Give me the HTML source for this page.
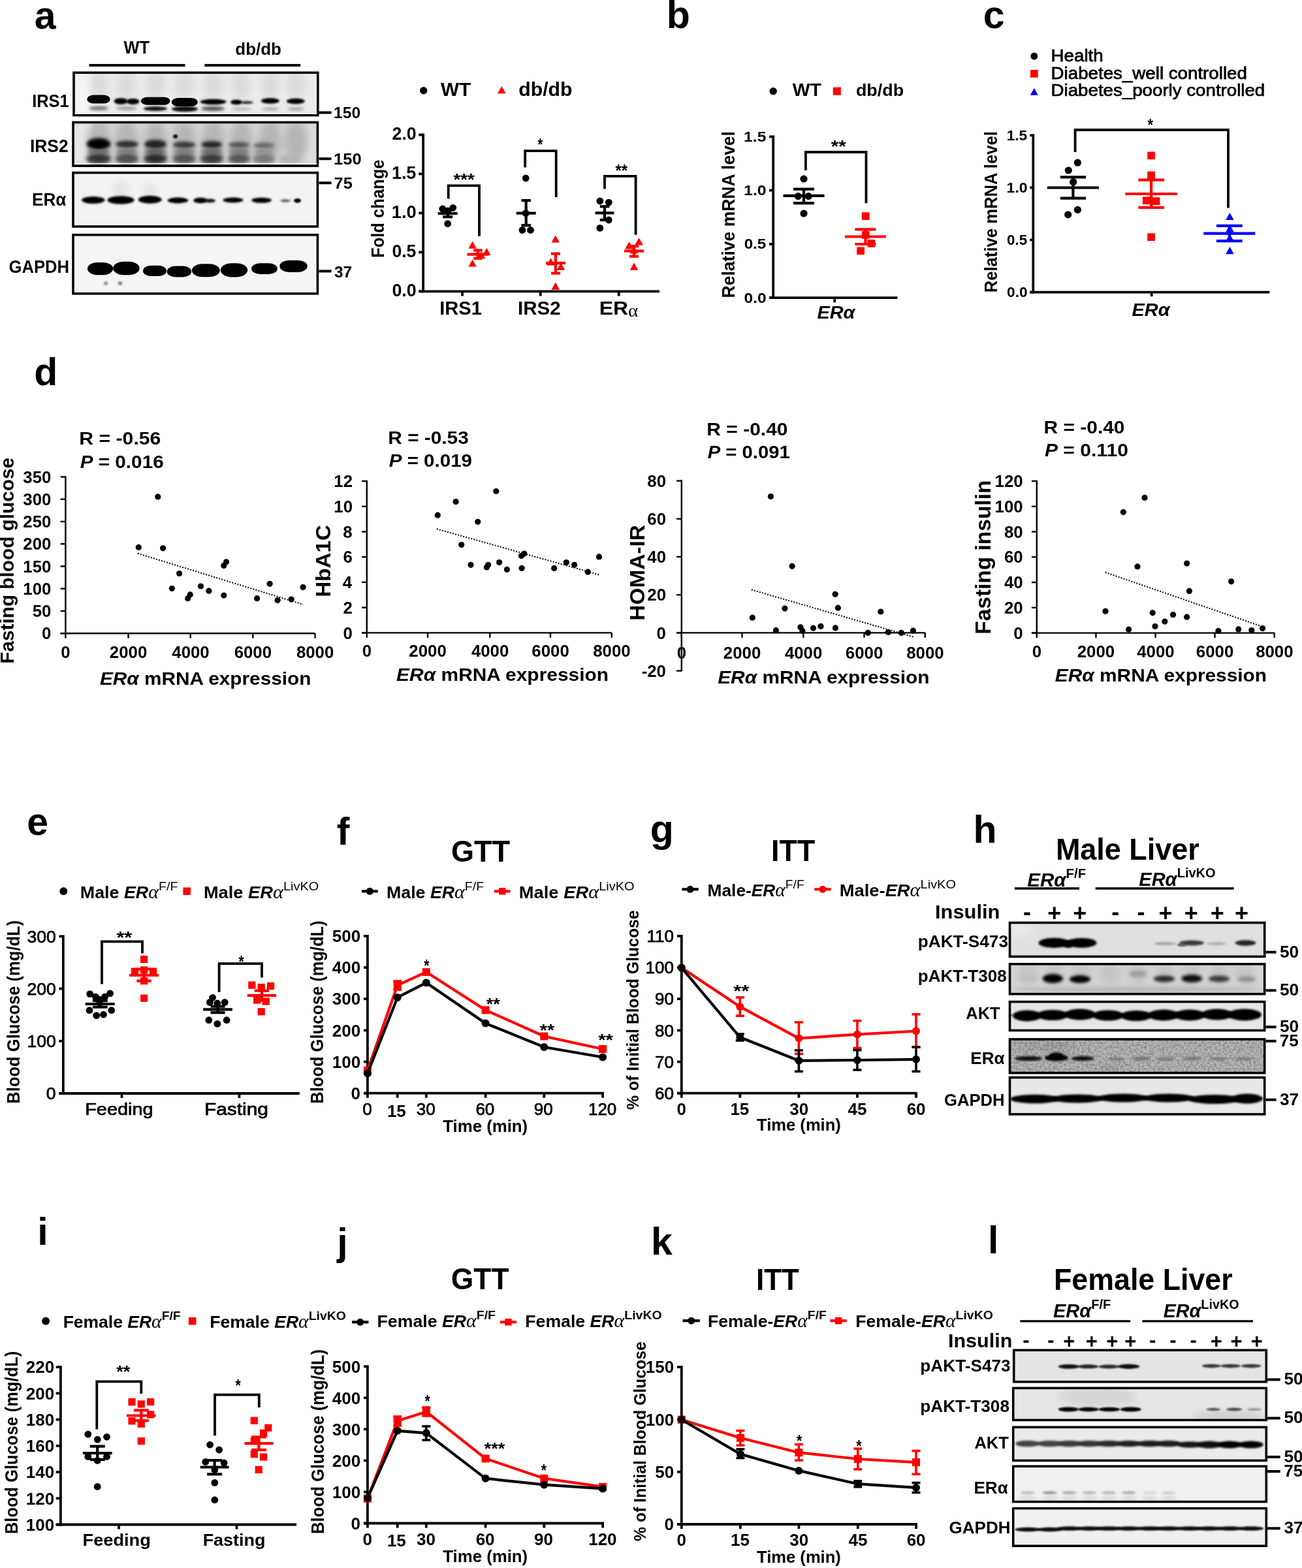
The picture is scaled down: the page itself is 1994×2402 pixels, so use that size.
<!DOCTYPE html>
<html><head><meta charset="utf-8"><title>Figure</title>
<style>html,body{margin:0;padding:0;background:#fff;width:1994px;height:2402px;overflow:hidden}svg{display:block}</style></head>
<body>
<svg width="1994" height="2402" viewBox="0 0 1994 2402" font-family="'Liberation Sans', Arial, Helvetica, sans-serif" xml:space="preserve" style="white-space:pre">
<defs>
<filter id="f0_8" x="-50%" y="-80%" width="200%" height="260%"><feGaussianBlur stdDeviation="0.8"/></filter>
<filter id="f1_2" x="-50%" y="-80%" width="200%" height="260%"><feGaussianBlur stdDeviation="1.2"/></filter>
<filter id="f1_6" x="-50%" y="-80%" width="200%" height="260%"><feGaussianBlur stdDeviation="1.6"/></filter>
<filter id="f2" x="-50%" y="-80%" width="200%" height="260%"><feGaussianBlur stdDeviation="2"/></filter>
<filter id="f2_5" x="-50%" y="-80%" width="200%" height="260%"><feGaussianBlur stdDeviation="2.5"/></filter>
<filter id="f3" x="-50%" y="-80%" width="200%" height="260%"><feGaussianBlur stdDeviation="3"/></filter>
<filter id="f4" x="-50%" y="-80%" width="200%" height="260%"><feGaussianBlur stdDeviation="4"/></filter>
<filter id="f5" x="-50%" y="-80%" width="200%" height="260%"><feGaussianBlur stdDeviation="5"/></filter>
<filter id="f6" x="-50%" y="-80%" width="200%" height="260%"><feGaussianBlur stdDeviation="6"/></filter>
<filter id="f9" x="-50%" y="-80%" width="200%" height="260%"><feGaussianBlur stdDeviation="9"/></filter>
<clipPath id="c1"><rect x="113.0" y="111.3" width="373.8" height="65.3"/></clipPath>
<clipPath id="c2"><rect x="112.0" y="187.4" width="374.4" height="66.7"/></clipPath>
<clipPath id="c3"><rect x="112.0" y="264.6" width="374.4" height="82.4"/></clipPath>
<clipPath id="c4"><rect x="112.0" y="359.8" width="374.4" height="90.0"/></clipPath>
<filter id="noise1" x="0" y="0" width="100%" height="100%" color-interpolation-filters="sRGB"><feTurbulence type="fractalNoise" baseFrequency="0.3" numOctaves="2" seed="3"/><feColorMatrix type="matrix" values="0 0 0 0 0.45  0 0 0 0 0.45  0 0 0 0 0.45  0 0 0 1.6 -0.55"/></filter>
<clipPath id="c5"><rect x="1546.5" y="1413.5" width="390.2" height="51.9"/></clipPath>
<clipPath id="c6"><rect x="1546.5" y="1476.8" width="390.2" height="45.9"/></clipPath>
<clipPath id="c7"><rect x="1546.5" y="1534.6" width="390.2" height="43.9"/></clipPath>
<clipPath id="c8"><rect x="1546.5" y="1592.0" width="390.2" height="51.6"/></clipPath>
<clipPath id="c9"><rect x="1546.5" y="1650.6" width="390.2" height="56.3"/></clipPath>
<clipPath id="c10"><rect x="1552.7" y="2068.3" width="386.6" height="48.5"/></clipPath>
<clipPath id="c11"><rect x="1551.7" y="2126.4" width="387.6" height="49.0"/></clipPath>
<clipPath id="c12"><rect x="1551.7" y="2186.3" width="387.6" height="51.1"/></clipPath>
<clipPath id="c13"><rect x="1551.7" y="2246.2" width="387.6" height="54.3"/></clipPath>
<clipPath id="c14"><rect x="1551.7" y="2310.6" width="387.6" height="57.6"/></clipPath>
</defs>
<rect width="1994" height="2402" fill="#fff"/>
<text transform="translate(52.83 43.60)" font-size="59" font-weight="bold">a</text>
<text transform="translate(1020.66 43.00)" font-size="59" font-weight="bold">b</text>
<text transform="translate(1505.64 42.80)" font-size="59" font-weight="bold">c</text>
<text transform="translate(52.14 590.20)" font-size="59" font-weight="bold">d</text>
<text transform="translate(41.24 1278.70)" font-size="59" font-weight="bold">e</text>
<text transform="translate(515.82 1293.70)" font-size="59" font-weight="bold">f</text>
<text transform="translate(995.84 1289.50)" font-size="59" font-weight="bold">g</text>
<text transform="translate(1490.57 1291.10)" font-size="59" font-weight="bold">h</text>
<text transform="translate(57.17 1907.00)" font-size="59" font-weight="bold">i</text>
<text transform="translate(516.18 1922.50)" font-size="59" font-weight="bold">j</text>
<text transform="translate(997.07 1921.80)" font-size="59" font-weight="bold">k</text>
<text transform="translate(1512.97 1920.20)" font-size="59" font-weight="bold">l</text>
<line x1="648.1" y1="204.6" x2="648.1" y2="448.2" stroke="#000" stroke-width="3.8" />
<line x1="641.2" y1="446.3" x2="648.1" y2="446.3" stroke="#000" stroke-width="3.8" />
<text transform="translate(600.43 453.90) scale(0.9597 1)" font-size="28" font-weight="bold">0.0</text>
<line x1="641.2" y1="386.4" x2="648.1" y2="386.4" stroke="#000" stroke-width="3.8" />
<text transform="translate(600.44 393.95) scale(0.9488 1)" font-size="28" font-weight="bold">0.5</text>
<line x1="641.2" y1="326.4" x2="648.1" y2="326.4" stroke="#000" stroke-width="3.8" />
<text transform="translate(599.86 334.00) scale(0.9745 1)" font-size="28" font-weight="bold">1.0</text>
<line x1="641.2" y1="266.4" x2="648.1" y2="266.4" stroke="#000" stroke-width="3.8" />
<text transform="translate(599.88 274.05) scale(0.9633 1)" font-size="28" font-weight="bold">1.5</text>
<line x1="641.2" y1="206.5" x2="648.1" y2="206.5" stroke="#000" stroke-width="3.8" />
<text transform="translate(600.56 214.10) scale(0.9560 1)" font-size="28" font-weight="bold">2.0</text>
<line x1="641.2" y1="446.3" x2="1010.0" y2="446.3" stroke="#000" stroke-width="3.8" />
<line x1="708.0" y1="446.3" x2="708.0" y2="453.5" stroke="#000" stroke-width="3.8" />
<line x1="827.7" y1="446.3" x2="827.7" y2="453.5" stroke="#000" stroke-width="3.8" />
<line x1="947.7" y1="446.3" x2="947.7" y2="453.5" stroke="#000" stroke-width="3.8" />
<text transform="translate(673.21 481.50) scale(0.9867 1)" font-size="29.5" font-weight="bold">IRS1</text>
<text transform="translate(793.08 481.50)" font-size="29.5" font-weight="bold">IRS2</text>
<text transform="translate(917.83 481.50) scale(1.0806 1)" font-size="29.5" font-weight="bold">ER</text>
<text transform="translate(962.11 485.00) scale(1.0806 1)" font-size="27" font-family="'Liberation Serif', 'Times New Roman', serif">α</text>
<text transform="translate(587.60 394.96) rotate(-90) scale(0.9467 1)" font-size="27" font-weight="bold">Fold change</text>
<circle cx="648.7" cy="138.7" r="5.7" fill="#000"/>
<text transform="translate(675.00 147.30) scale(0.9924 1)" font-size="30" font-weight="bold">WT</text>
<polygon points="768.3,131.9 762.0,143.2 774.5,143.2" fill="#f00"/>
<text transform="translate(794.29 147.30) scale(1.0076 1)" font-size="30" font-weight="bold">db/db</text>
<circle cx="677.8" cy="320.0" r="5.4" fill="#000"/>
<circle cx="693.7" cy="318.3" r="5.4" fill="#000"/>
<circle cx="685.7" cy="342.7" r="5.4" fill="#000"/>
<circle cx="685.7" cy="322.9" r="5.4" fill="#000"/>
<circle cx="805.2" cy="273.0" r="5.4" fill="#000"/>
<circle cx="805.2" cy="326.6" r="5.4" fill="#000"/>
<circle cx="800.0" cy="352.5" r="5.4" fill="#000"/>
<circle cx="812.5" cy="352.5" r="5.4" fill="#000"/>
<circle cx="918.8" cy="308.0" r="5.4" fill="#000"/>
<circle cx="932.3" cy="310.1" r="5.4" fill="#000"/>
<circle cx="932.3" cy="337.0" r="5.4" fill="#000"/>
<circle cx="918.8" cy="349.4" r="5.4" fill="#000"/>
<line x1="670.7" y1="327.0" x2="700.7" y2="327.0" stroke="#000" stroke-width="4.2" />
<line x1="685.7" y1="321.5" x2="685.7" y2="332.2" stroke="#000" stroke-width="4.2" />
<line x1="678.2" y1="321.5" x2="693.2" y2="321.5" stroke="#000" stroke-width="4.2" />
<line x1="678.2" y1="332.2" x2="693.2" y2="332.2" stroke="#000" stroke-width="4.2" />
<line x1="790.7" y1="326.6" x2="820.7" y2="326.6" stroke="#000" stroke-width="4.2" />
<line x1="805.7" y1="307.0" x2="805.7" y2="345.2" stroke="#000" stroke-width="4.2" />
<line x1="798.5" y1="307.0" x2="812.9" y2="307.0" stroke="#000" stroke-width="4.2" />
<line x1="798.5" y1="345.2" x2="812.9" y2="345.2" stroke="#000" stroke-width="4.2" />
<line x1="911.5" y1="326.2" x2="940.5" y2="326.2" stroke="#000" stroke-width="4.2" />
<line x1="926.0" y1="316.3" x2="926.0" y2="337.0" stroke="#000" stroke-width="4.2" />
<line x1="918.8" y1="316.3" x2="933.2" y2="316.3" stroke="#000" stroke-width="4.2" />
<line x1="918.8" y1="337.0" x2="933.2" y2="337.0" stroke="#000" stroke-width="4.2" />
<polygon points="723.6,369.4 717.4,380.7 729.9,380.7" fill="#f00"/>
<polygon points="745.3,379.8 739.0,391.0 751.5,391.0" fill="#f00"/>
<polygon points="737.0,384.9 730.8,396.2 743.2,396.2" fill="#f00"/>
<polygon points="723.6,397.4 717.4,408.6 729.9,408.6" fill="#f00"/>
<polygon points="850.7,360.2 844.5,371.5 857.0,371.5" fill="#f00"/>
<polygon points="843.4,395.2 837.1,406.5 849.6,406.5" fill="#f00"/>
<polygon points="859.0,402.6 852.8,413.8 865.2,413.8" fill="#f00"/>
<polygon points="850.7,432.4 844.5,443.7 857.0,443.7" fill="#f00"/>
<polygon points="963.5,370.2 957.2,381.5 969.8,381.5" fill="#f00"/>
<polygon points="978.5,364.2 972.2,375.5 984.8,375.5" fill="#f00"/>
<polygon points="971.0,377.2 964.8,388.5 977.2,388.5" fill="#f00"/>
<polygon points="971.0,402.6 964.8,413.8 977.2,413.8" fill="#f00"/>
<line x1="715.4" y1="389.6" x2="748.4" y2="389.6" stroke="#f00" stroke-width="4.2" />
<line x1="731.9" y1="383.4" x2="731.9" y2="395.8" stroke="#f00" stroke-width="4.2" />
<line x1="725.2" y1="383.4" x2="738.6" y2="383.4" stroke="#f00" stroke-width="4.2" />
<line x1="725.2" y1="395.8" x2="738.6" y2="395.8" stroke="#f00" stroke-width="4.2" />
<line x1="836.0" y1="403.0" x2="866.0" y2="403.0" stroke="#f00" stroke-width="4.2" />
<line x1="851.0" y1="388.6" x2="851.0" y2="418.6" stroke="#f00" stroke-width="4.2" />
<line x1="844.0" y1="388.6" x2="858.0" y2="388.6" stroke="#f00" stroke-width="4.2" />
<line x1="844.0" y1="418.6" x2="858.0" y2="418.6" stroke="#f00" stroke-width="4.2" />
<line x1="956.0" y1="384.5" x2="986.0" y2="384.5" stroke="#f00" stroke-width="4.2" />
<line x1="971.0" y1="377.2" x2="971.0" y2="392.7" stroke="#f00" stroke-width="4.2" />
<line x1="964.0" y1="377.2" x2="978.0" y2="377.2" stroke="#f00" stroke-width="4.2" />
<line x1="964.0" y1="392.7" x2="978.0" y2="392.7" stroke="#f00" stroke-width="4.2" />
<polyline points="686.7,304.6 686.7,284.3 734.0,284.3 734.0,361.8" fill="none" stroke="#000" stroke-width="3.8" stroke-linejoin="miter" />
<polyline points="804.2,256.4 804.2,231.2 851.7,231.2 851.7,301.9" fill="none" stroke="#000" stroke-width="3.8" stroke-linejoin="miter" />
<polyline points="926.0,289.5 926.0,269.8 973.6,269.8 973.6,359.7" fill="none" stroke="#000" stroke-width="3.8" stroke-linejoin="miter" />
<text transform="translate(694.56 284.00) scale(1.1034 1)" font-size="25" font-weight="bold">***</text>
<text transform="translate(823.40 230.00) scale(0.7895 1)" font-size="25" font-weight="bold">*</text>
<text transform="translate(942.48 269.60) scale(0.9558 1)" font-size="25" font-weight="bold">**</text>
<line x1="1184.2" y1="207.5" x2="1184.2" y2="458.0" stroke="#000" stroke-width="3.8" />
<line x1="1178.0" y1="456.1" x2="1184.2" y2="456.1" stroke="#000" stroke-width="3.8" />
<text transform="translate(1139.62 463.50) scale(1.0891 1)" font-size="22.5" font-weight="bold">0.0</text>
<line x1="1178.0" y1="373.9" x2="1184.2" y2="373.9" stroke="#000" stroke-width="3.8" />
<text transform="translate(1139.63 381.25) scale(1.0767 1)" font-size="22.5" font-weight="bold">0.5</text>
<line x1="1178.0" y1="291.6" x2="1184.2" y2="291.6" stroke="#000" stroke-width="3.8" />
<text transform="translate(1139.11 299.00) scale(1.1059 1)" font-size="22.5" font-weight="bold">1.0</text>
<line x1="1178.0" y1="209.4" x2="1184.2" y2="209.4" stroke="#000" stroke-width="3.8" />
<text transform="translate(1139.12 216.75) scale(1.0932 1)" font-size="22.5" font-weight="bold">1.5</text>
<line x1="1178.0" y1="456.1" x2="1374.4" y2="456.1" stroke="#000" stroke-width="3.8" />
<line x1="1278.3" y1="456.1" x2="1278.3" y2="463.3" stroke="#000" stroke-width="3.8" />
<text transform="translate(1251.42 487.70) scale(1.0317 1)" font-size="28" font-weight="bold" font-style="italic">ERα</text>
<text transform="translate(1124.70 456.42) rotate(-90) scale(0.9307 1)" font-size="28.5" font-weight="bold">Relative mRNA level</text>
<circle cx="1184.2" cy="139.7" r="5.7" fill="#000"/>
<text transform="translate(1213.80 146.90) scale(1.0642 1)" font-size="26.7" font-weight="bold">WT</text>
<rect x="1275.8" y="133.7" width="12" height="12" fill="#f00"/>
<text transform="translate(1310.92 146.90) scale(1.0073 1)" font-size="26.7" font-weight="bold">db/db</text>
<circle cx="1231.0" cy="274.0" r="5.6" fill="#000"/>
<circle cx="1222.4" cy="300.6" r="5.6" fill="#000"/>
<circle cx="1238.2" cy="300.6" r="5.6" fill="#000"/>
<circle cx="1231.0" cy="327.0" r="5.6" fill="#000"/>
<line x1="1199.5" y1="299.8" x2="1262.5" y2="299.8" stroke="#000" stroke-width="4.2" />
<line x1="1231.0" y1="289.7" x2="1231.0" y2="311.2" stroke="#000" stroke-width="4.2" />
<line x1="1215.0" y1="289.7" x2="1247.0" y2="289.7" stroke="#000" stroke-width="4.2" />
<line x1="1215.0" y1="311.2" x2="1247.0" y2="311.2" stroke="#000" stroke-width="4.2" />
<rect x="1319.9" y="325.3" width="11.7" height="11.7" fill="#f00"/>
<rect x="1319.9" y="354.1" width="11.7" height="11.7" fill="#f00"/>
<rect x="1328.5" y="367.1" width="11.7" height="11.7" fill="#f00"/>
<rect x="1312.2" y="378.5" width="11.7" height="11.7" fill="#f00"/>
<line x1="1294.0" y1="362.5" x2="1356.8" y2="362.5" stroke="#f00" stroke-width="4.2" />
<line x1="1325.4" y1="351.3" x2="1325.4" y2="374.0" stroke="#f00" stroke-width="4.2" />
<line x1="1309.4" y1="351.3" x2="1341.4" y2="351.3" stroke="#f00" stroke-width="4.2" />
<line x1="1309.4" y1="374.0" x2="1341.4" y2="374.0" stroke="#f00" stroke-width="4.2" />
<polyline points="1233.9,261.0 1233.9,233.0 1326.5,233.0 1326.5,311.2" fill="none" stroke="#000" stroke-width="3.8" stroke-linejoin="miter" />
<text transform="translate(1272.85 233.32) scale(1.1239 1)" font-size="26" font-weight="bold">**</text>
<line x1="1582.3" y1="205.4" x2="1582.3" y2="449.5" stroke="#000" stroke-width="3.8" />
<line x1="1577.3" y1="447.6" x2="1582.3" y2="447.6" stroke="#000" stroke-width="3.8" />
<text transform="translate(1542.09 454.90) scale(1.0305 1)" font-size="22" font-weight="bold">0.0</text>
<line x1="1577.3" y1="367.5" x2="1582.3" y2="367.5" stroke="#000" stroke-width="3.8" />
<text transform="translate(1542.10 374.80) scale(1.0189 1)" font-size="22" font-weight="bold">0.5</text>
<line x1="1577.3" y1="287.4" x2="1582.3" y2="287.4" stroke="#000" stroke-width="3.8" />
<text transform="translate(1541.62 294.70) scale(1.0465 1)" font-size="22" font-weight="bold">1.0</text>
<line x1="1577.3" y1="207.3" x2="1582.3" y2="207.3" stroke="#000" stroke-width="3.8" />
<text transform="translate(1541.63 214.60) scale(1.0345 1)" font-size="22" font-weight="bold">1.5</text>
<line x1="1577.3" y1="447.6" x2="1944.5" y2="447.6" stroke="#000" stroke-width="3.8" />
<line x1="1763.7" y1="447.6" x2="1763.7" y2="454.1" stroke="#000" stroke-width="3.8" />
<text transform="translate(1733.62 483.60) scale(1.0300 1)" font-size="28" font-weight="bold" font-style="italic">ERα</text>
<text transform="translate(1527.30 448.37) rotate(-90) scale(0.9306 1)" font-size="27.6" font-weight="bold">Relative mRNA level</text>
<circle cx="1583.8" cy="86.1" r="5.5" fill="#000"/>
<text transform="translate(1609.58 93.80) scale(1.0663 1)" font-size="26" stroke="#000" stroke-width="0.75">Health</text>
<rect x="1577.9" y="107.0" width="11.8" height="11.8" fill="#f00"/>
<text transform="translate(1609.58 120.90) scale(1.0659 1)" font-size="26" stroke="#000" stroke-width="0.75">Diabetes_well controlled</text>
<polygon points="1583.8,135.0 1577.8,145.8 1589.8,145.8" fill="#00f"/>
<text transform="translate(1609.59 147.40) scale(1.0649 1)" font-size="26" stroke="#000" stroke-width="0.75">Diabetes_poorly controlled</text>
<circle cx="1650.4" cy="249.2" r="5.6" fill="#000"/>
<circle cx="1636.3" cy="261.0" r="5.6" fill="#000"/>
<circle cx="1643.7" cy="278.7" r="5.6" fill="#000"/>
<circle cx="1650.4" cy="321.4" r="5.6" fill="#000"/>
<circle cx="1635.7" cy="328.8" r="5.6" fill="#000"/>
<line x1="1603.9" y1="287.5" x2="1682.9" y2="287.5" stroke="#000" stroke-width="4.2" />
<line x1="1643.4" y1="271.3" x2="1643.4" y2="303.7" stroke="#000" stroke-width="4.2" />
<line x1="1623.8" y1="271.3" x2="1663.0" y2="271.3" stroke="#000" stroke-width="4.2" />
<line x1="1623.8" y1="303.7" x2="1663.0" y2="303.7" stroke="#000" stroke-width="4.2" />
<rect x="1757.2" y="232.5" width="11.7" height="11.7" fill="#f00"/>
<rect x="1757.2" y="262.5" width="11.7" height="11.7" fill="#f00"/>
<rect x="1749.9" y="301.4" width="11.7" height="11.7" fill="#f00"/>
<rect x="1764.7" y="302.3" width="11.7" height="11.7" fill="#f00"/>
<rect x="1757.2" y="357.4" width="11.7" height="11.7" fill="#f00"/>
<line x1="1723.3" y1="297.0" x2="1802.9" y2="297.0" stroke="#f00" stroke-width="4.2" />
<line x1="1763.1" y1="275.7" x2="1763.1" y2="317.9" stroke="#f00" stroke-width="4.2" />
<line x1="1743.3" y1="275.7" x2="1782.9" y2="275.7" stroke="#f00" stroke-width="4.2" />
<line x1="1743.3" y1="317.9" x2="1782.9" y2="317.9" stroke="#f00" stroke-width="4.2" />
<polygon points="1883.4,325.9 1877.2,337.1 1889.7,337.1" fill="#00f"/>
<polygon points="1883.4,344.1 1877.2,355.4 1889.7,355.4" fill="#00f"/>
<polygon points="1883.4,358.4 1877.2,369.6 1889.7,369.6" fill="#00f"/>
<polygon points="1883.4,378.1 1877.2,389.3 1889.7,389.3" fill="#00f"/>
<line x1="1843.3" y1="357.7" x2="1922.3" y2="357.7" stroke="#00f" stroke-width="4.2" />
<line x1="1882.8" y1="345.9" x2="1882.8" y2="369.2" stroke="#00f" stroke-width="4.2" />
<line x1="1862.9" y1="345.9" x2="1902.7" y2="345.9" stroke="#00f" stroke-width="4.2" />
<line x1="1862.9" y1="369.2" x2="1902.7" y2="369.2" stroke="#00f" stroke-width="4.2" />
<polyline points="1646.6,233.0 1646.6,199.0 1881.0,199.0 1881.0,318.5" fill="none" stroke="#000" stroke-width="3.8" stroke-linejoin="miter" />
<text transform="translate(1757.39 200.02) scale(0.8300 1)" font-size="26" font-weight="bold">*</text>
<text transform="translate(189.60 81.90) scale(0.9397 1)" font-size="27" font-weight="bold">WT</text>
<text transform="translate(360.36 84.20) scale(1.0379 1)" font-size="25" font-weight="bold">db/db</text>
<line x1="136.5" y1="100.0" x2="283.4" y2="100.0" stroke="#000" stroke-width="3.8" />
<line x1="313.3" y1="100.0" x2="460.1" y2="100.0" stroke="#000" stroke-width="3.8" />
<text transform="translate(49.15 163.90) scale(0.9424 1)" font-size="27" font-weight="bold">IRS1</text>
<text transform="translate(45.88 232.90) scale(0.9789 1)" font-size="27" font-weight="bold">IRS2</text>
<text transform="translate(49.10 314.90) scale(0.9672 1)" font-size="27" font-weight="bold">ERα</text>
<text transform="translate(13.47 418.30) scale(0.9500 1)" font-size="27" font-weight="bold">GAPDH</text>
<g clip-path="url(#c1)"><rect x="113.0" y="111.3" width="373.8" height="65.3" fill="#ececec"/><rect x="113" y="111" width="40" height="66" fill="#f6f6f6" filter="url(#f9)"/><ellipse cx="151.6" cy="130.0" rx="15.0" ry="22.0" fill="#dbdbdb" style="mix-blend-mode:darken" filter="url(#f6)"/><ellipse cx="193.5" cy="130.0" rx="15.0" ry="22.0" fill="#dbdbdb" style="mix-blend-mode:darken" filter="url(#f6)"/><ellipse cx="238.2" cy="130.0" rx="15.0" ry="22.0" fill="#dbdbdb" style="mix-blend-mode:darken" filter="url(#f6)"/><ellipse cx="282.5" cy="130.0" rx="15.0" ry="22.0" fill="#dbdbdb" style="mix-blend-mode:darken" filter="url(#f6)"/><ellipse cx="326.6" cy="130.0" rx="15.0" ry="22.0" fill="#dbdbdb" style="mix-blend-mode:darken" filter="url(#f6)"/><ellipse cx="369.6" cy="130.0" rx="15.0" ry="22.0" fill="#dbdbdb" style="mix-blend-mode:darken" filter="url(#f6)"/><ellipse cx="413.8" cy="130.0" rx="15.0" ry="22.0" fill="#dbdbdb" style="mix-blend-mode:darken" filter="url(#f6)"/><ellipse cx="452.8" cy="130.0" rx="15.0" ry="22.0" fill="#dbdbdb" style="mix-blend-mode:darken" filter="url(#f6)"/><rect x="133.3" y="145.4" width="35.4" height="13.2" rx="10.6" fill="#000000" style="mix-blend-mode:darken" filter="url(#f1_5)"/><ellipse cx="185.0" cy="155.0" rx="10.5" ry="4.8" fill="#000000" style="mix-blend-mode:darken" filter="url(#f1_6)"/><ellipse cx="203.5" cy="155.5" rx="10.0" ry="4.5" fill="#000000" style="mix-blend-mode:darken" filter="url(#f1_6)"/><rect x="215.9" y="148.8" width="44.6" height="12.0" rx="9.6" fill="#000000" style="mix-blend-mode:darken" filter="url(#f1_5)"/><rect x="262.8" y="149.9" width="40.0" height="13.2" rx="10.6" fill="#000000" style="mix-blend-mode:darken" filter="url(#f1_5)"/><ellipse cx="326.6" cy="156.0" rx="20.0" ry="4.2" fill="#000000" style="mix-blend-mode:darken" filter="url(#f1_6)"/><ellipse cx="362.0" cy="156.5" rx="9.0" ry="3.8" fill="#000000" style="mix-blend-mode:darken" filter="url(#f1_6)"/><ellipse cx="378.0" cy="157.0" rx="10.0" ry="2.2" fill="#2f2f2f" style="mix-blend-mode:darken" filter="url(#f1_6)"/><ellipse cx="413.8" cy="154.5" rx="14.0" ry="4.3" fill="#000000" style="mix-blend-mode:darken" filter="url(#f1_6)"/><ellipse cx="452.8" cy="155.0" rx="14.0" ry="4.3" fill="#000000" style="mix-blend-mode:darken" filter="url(#f1_6)"/><ellipse cx="151.0" cy="165.8" rx="15.0" ry="3.0" fill="#6a6a6a" style="mix-blend-mode:darken" filter="url(#f2)"/><ellipse cx="194.0" cy="166.0" rx="16.0" ry="2.8" fill="#999999" style="mix-blend-mode:darken" filter="url(#f2)"/><ellipse cx="238.0" cy="166.5" rx="18.0" ry="3.6" fill="#181818" style="mix-blend-mode:darken" filter="url(#f1_6)"/><ellipse cx="283.0" cy="167.0" rx="20.0" ry="4.2" fill="#0c0c0c" style="mix-blend-mode:darken" filter="url(#f1_6)"/><ellipse cx="326.0" cy="166.5" rx="18.0" ry="3.2" fill="#474747" style="mix-blend-mode:darken" filter="url(#f2)"/><ellipse cx="370.0" cy="167.0" rx="15.0" ry="2.5" fill="#b8b8b8" style="mix-blend-mode:darken" filter="url(#f2)"/><ellipse cx="414.0" cy="167.0" rx="13.0" ry="2.5" fill="#aaaaaa" style="mix-blend-mode:darken" filter="url(#f2)"/><ellipse cx="453.0" cy="167.0" rx="13.0" ry="2.5" fill="#a0a0a0" style="mix-blend-mode:darken" filter="url(#f2)"/></g>
<rect x="113.0" y="111.3" width="373.8" height="65.3" fill="none" stroke="#000" stroke-width="3.6" />
<line x1="114.5" y1="173.9" x2="485.5" y2="173.9" stroke="#fff" stroke-width="1.2" />
<g clip-path="url(#c2)"><rect x="112.0" y="187.4" width="374.4" height="66.7" fill="#d4d4d4"/><rect x="112" y="187" width="30" height="70" fill="#e6e6e6" filter="url(#f6)"/><rect x="470" y="187" width="20" height="70" fill="#dddddd" filter="url(#f4)"/><ellipse cx="151.6" cy="215.0" rx="17.0" ry="30.0" fill="#b6b6b6" style="mix-blend-mode:darken" filter="url(#f6)"/><ellipse cx="193.5" cy="215.0" rx="17.0" ry="30.0" fill="#b6b6b6" style="mix-blend-mode:darken" filter="url(#f6)"/><ellipse cx="238.2" cy="215.0" rx="17.0" ry="30.0" fill="#b6b6b6" style="mix-blend-mode:darken" filter="url(#f6)"/><ellipse cx="282.5" cy="215.0" rx="17.0" ry="30.0" fill="#b6b6b6" style="mix-blend-mode:darken" filter="url(#f6)"/><ellipse cx="326.6" cy="215.0" rx="17.0" ry="30.0" fill="#b6b6b6" style="mix-blend-mode:darken" filter="url(#f6)"/><ellipse cx="369.6" cy="215.0" rx="17.0" ry="30.0" fill="#b6b6b6" style="mix-blend-mode:darken" filter="url(#f6)"/><ellipse cx="413.8" cy="215.0" rx="17.0" ry="30.0" fill="#b6b6b6" style="mix-blend-mode:darken" filter="url(#f6)"/><ellipse cx="452.8" cy="215.0" rx="17.0" ry="30.0" fill="#b6b6b6" style="mix-blend-mode:darken" filter="url(#f6)"/><ellipse cx="151.0" cy="220.5" rx="18.5" ry="9.0" fill="#000000" style="mix-blend-mode:darken" filter="url(#f2_5)"/><ellipse cx="194.5" cy="221.0" rx="17.5" ry="5.5" fill="#2a2a2a" style="mix-blend-mode:darken" filter="url(#f2_5)"/><ellipse cx="238.0" cy="221.0" rx="17.0" ry="7.0" fill="#202020" style="mix-blend-mode:darken" filter="url(#f2_5)"/><ellipse cx="282.0" cy="222.0" rx="17.5" ry="5.0" fill="#353535" style="mix-blend-mode:darken" filter="url(#f2_5)"/><ellipse cx="268.6" cy="209.0" rx="3.4" ry="3.0" fill="#000000" style="mix-blend-mode:darken" filter="url(#f0_8)"/><ellipse cx="324.0" cy="221.5" rx="16.0" ry="5.5" fill="#202020" style="mix-blend-mode:darken" filter="url(#f2_5)"/><ellipse cx="366.0" cy="222.0" rx="16.0" ry="4.5" fill="#515151" style="mix-blend-mode:darken" filter="url(#f2_5)"/><ellipse cx="404.0" cy="223.0" rx="16.0" ry="5.0" fill="#6a6a6a" style="mix-blend-mode:darken" filter="url(#f2_5)"/><ellipse cx="444.0" cy="223.0" rx="15.0" ry="4.0" fill="#bbbbbb" style="mix-blend-mode:darken" filter="url(#f2_5)"/><ellipse cx="151.0" cy="243.0" rx="19.0" ry="9.0" fill="#353535" style="mix-blend-mode:darken" filter="url(#f3)"/><ellipse cx="194.5" cy="243.0" rx="18.0" ry="9.0" fill="#515151" style="mix-blend-mode:darken" filter="url(#f3)"/><ellipse cx="238.0" cy="243.0" rx="18.0" ry="9.0" fill="#2a2a2a" style="mix-blend-mode:darken" filter="url(#f3)"/><ellipse cx="282.0" cy="243.0" rx="18.0" ry="9.0" fill="#555555" style="mix-blend-mode:darken" filter="url(#f3)"/><ellipse cx="324.0" cy="243.0" rx="18.0" ry="9.0" fill="#3b3b3b" style="mix-blend-mode:darken" filter="url(#f3)"/><ellipse cx="366.0" cy="243.0" rx="17.0" ry="9.0" fill="#595959" style="mix-blend-mode:darken" filter="url(#f3)"/><ellipse cx="404.0" cy="243.0" rx="17.0" ry="9.0" fill="#7b7b7b" style="mix-blend-mode:darken" filter="url(#f3)"/><ellipse cx="444.0" cy="244.0" rx="17.0" ry="8.0" fill="#b4b4b4" style="mix-blend-mode:darken" filter="url(#f3)"/><ellipse cx="151.0" cy="232.0" rx="17.0" ry="6.0" fill="#6a6a6a" style="mix-blend-mode:darken" filter="url(#f3)"/><ellipse cx="194.5" cy="232.0" rx="16.0" ry="6.0" fill="#7b7b7b" style="mix-blend-mode:darken" filter="url(#f3)"/><ellipse cx="238.0" cy="232.0" rx="16.0" ry="6.0" fill="#5f5f5f" style="mix-blend-mode:darken" filter="url(#f3)"/><ellipse cx="282.0" cy="232.0" rx="16.0" ry="6.0" fill="#7b7b7b" style="mix-blend-mode:darken" filter="url(#f3)"/><ellipse cx="324.0" cy="232.0" rx="16.0" ry="6.0" fill="#666666" style="mix-blend-mode:darken" filter="url(#f3)"/><ellipse cx="366.0" cy="232.0" rx="16.0" ry="6.0" fill="#7b7b7b" style="mix-blend-mode:darken" filter="url(#f3)"/><ellipse cx="404.0" cy="232.0" rx="16.0" ry="6.0" fill="#949494" style="mix-blend-mode:darken" filter="url(#f3)"/></g>
<rect x="112.0" y="187.4" width="374.4" height="66.7" fill="none" stroke="#000" stroke-width="3.6" />
<line x1="113.5" y1="250.6" x2="485.5" y2="250.6" stroke="#fff" stroke-width="1.2" />
<g clip-path="url(#c3)"><rect x="112.0" y="264.6" width="374.4" height="82.4" fill="#f3f3f3"/><ellipse cx="185.0" cy="290.0" rx="12.0" ry="12.0" fill="#e4e4e4" style="mix-blend-mode:darken" filter="url(#f4)"/><ellipse cx="230.0" cy="292.0" rx="12.0" ry="12.0" fill="#e7e7e7" style="mix-blend-mode:darken" filter="url(#f4)"/><ellipse cx="142.8" cy="306.5" rx="17.5" ry="5.6" fill="#000000" style="mix-blend-mode:darken" filter="url(#f1_6)"/><ellipse cx="185.0" cy="306.5" rx="20.5" ry="6.2" fill="#000000" style="mix-blend-mode:darken" filter="url(#f1_6)"/><ellipse cx="229.7" cy="305.8" rx="18.0" ry="6.0" fill="#000000" style="mix-blend-mode:darken" filter="url(#f1_6)"/><ellipse cx="272.4" cy="307.0" rx="16.0" ry="4.4" fill="#000000" style="mix-blend-mode:darken" filter="url(#f1_6)"/><ellipse cx="307.0" cy="307.0" rx="11.0" ry="4.3" fill="#000000" style="mix-blend-mode:darken" filter="url(#f1_6)"/><ellipse cx="322.0" cy="307.5" rx="8.0" ry="3.0" fill="#181818" style="mix-blend-mode:darken" filter="url(#f1_6)"/><ellipse cx="357.0" cy="306.5" rx="15.5" ry="4.0" fill="#000000" style="mix-blend-mode:darken" filter="url(#f1_6)"/><ellipse cx="400.6" cy="306.8" rx="15.5" ry="4.0" fill="#000000" style="mix-blend-mode:darken" filter="url(#f1_6)"/><ellipse cx="437.0" cy="307.5" rx="8.0" ry="2.2" fill="#616161" style="mix-blend-mode:darken" filter="url(#f1_6)"/><ellipse cx="455.5" cy="307.3" rx="5.5" ry="3.4" fill="#000000" style="mix-blend-mode:darken" filter="url(#f1_2)"/></g>
<rect x="112.0" y="264.6" width="374.4" height="82.4" fill="none" stroke="#000" stroke-width="3.6" />
<g clip-path="url(#c4)"><rect x="112.0" y="359.8" width="374.4" height="90.0" fill="#f5f5f5"/><rect x="134.0" y="402.0" width="39.2" height="19.2" rx="15.4" fill="#000000" style="mix-blend-mode:darken" filter="url(#f1_5)"/><rect x="173.2" y="400.8" width="40.4" height="20.4" rx="16.3" fill="#000000" style="mix-blend-mode:darken" filter="url(#f1_5)"/><rect x="219.0" y="406.7" width="36.0" height="16.4" rx="13.1" fill="#000000" style="mix-blend-mode:darken" filter="url(#f1_5)"/><rect x="255.7" y="407.6" width="37.4" height="16.8" rx="13.4" fill="#000000" style="mix-blend-mode:darken" filter="url(#f1_5)"/><rect x="293.9" y="404.3" width="42.8" height="20.0" rx="16.0" fill="#000000" style="mix-blend-mode:darken" filter="url(#f1_5)"/><rect x="337.8" y="403.2" width="41.4" height="21.2" rx="17.0" fill="#000000" style="mix-blend-mode:darken" filter="url(#f1_5)"/><rect x="385.1" y="403.2" width="39.8" height="16.8" rx="13.4" fill="#000000" style="mix-blend-mode:darken" filter="url(#f1_5)"/><rect x="428.3" y="398.7" width="42.4" height="18.2" rx="14.6" fill="#000000" style="mix-blend-mode:darken" filter="url(#f1_5)"/><ellipse cx="162.0" cy="434.0" rx="3.0" ry="2.5" fill="#7a7a7a" style="mix-blend-mode:darken" filter="url(#f1_6)"/><ellipse cx="184.0" cy="434.0" rx="3.0" ry="2.5" fill="#626262" style="mix-blend-mode:darken" filter="url(#f1_6)"/></g>
<rect x="112.0" y="359.8" width="374.4" height="90.0" fill="none" stroke="#000" stroke-width="3.6" />
<line x1="488.5" y1="172.5" x2="507.6" y2="172.5" stroke="#000" stroke-width="4" />
<text transform="translate(511.02 180.60) scale(1.0250 1)" font-size="24" font-weight="bold">150</text>
<line x1="488.5" y1="243.2" x2="507.6" y2="243.2" stroke="#000" stroke-width="4" />
<text transform="translate(510.96 252.20) scale(1.0676 1)" font-size="24" font-weight="bold">150</text>
<line x1="488.5" y1="280.2" x2="507.6" y2="280.2" stroke="#000" stroke-width="4" />
<text transform="translate(511.48 289.20) scale(1.0606 1)" font-size="24" font-weight="bold">75</text>
<line x1="488.5" y1="415.4" x2="507.6" y2="415.4" stroke="#000" stroke-width="4" />
<text transform="translate(511.89 424.70) scale(1.0247 1)" font-size="24" font-weight="bold">37</text>
<line x1="100.4" y1="729.3" x2="100.4" y2="971.4" stroke="#000" stroke-width="2.4" />
<line x1="92.6" y1="970.2" x2="100.4" y2="970.2" stroke="#000" stroke-width="2.4" />
<text transform="translate(64.01 979.36)" font-size="25.8" font-weight="bold">0</text>
<line x1="92.6" y1="936.0" x2="100.4" y2="936.0" stroke="#000" stroke-width="2.4" />
<text transform="translate(49.69 945.11)" font-size="25.8" font-weight="bold">50</text>
<line x1="92.6" y1="901.7" x2="100.4" y2="901.7" stroke="#000" stroke-width="2.4" />
<text transform="translate(35.37 910.86)" font-size="25.8" font-weight="bold">100</text>
<line x1="92.6" y1="867.5" x2="100.4" y2="867.5" stroke="#000" stroke-width="2.4" />
<text transform="translate(35.37 876.61)" font-size="25.8" font-weight="bold">150</text>
<line x1="92.6" y1="833.2" x2="100.4" y2="833.2" stroke="#000" stroke-width="2.4" />
<text transform="translate(35.37 842.36)" font-size="25.8" font-weight="bold">200</text>
<line x1="92.6" y1="799.0" x2="100.4" y2="799.0" stroke="#000" stroke-width="2.4" />
<text transform="translate(35.37 808.11)" font-size="25.8" font-weight="bold">250</text>
<line x1="92.6" y1="764.7" x2="100.4" y2="764.7" stroke="#000" stroke-width="2.4" />
<text transform="translate(35.37 773.86)" font-size="25.8" font-weight="bold">300</text>
<line x1="92.6" y1="730.5" x2="100.4" y2="730.5" stroke="#000" stroke-width="2.4" />
<text transform="translate(35.37 739.61)" font-size="25.8" font-weight="bold">350</text>
<line x1="92.4" y1="970.2" x2="482.5" y2="970.2" stroke="#000" stroke-width="2.4" />
<line x1="100.4" y1="970.2" x2="100.4" y2="977.7" stroke="#000" stroke-width="2.4" />
<text transform="translate(93.24 1007.60)" font-size="25.8" font-weight="bold">0</text>
<line x1="196.5" y1="970.2" x2="196.5" y2="977.7" stroke="#000" stroke-width="2.4" />
<text transform="translate(167.86 1007.60)" font-size="25.8" font-weight="bold">2000</text>
<line x1="291.7" y1="970.2" x2="291.7" y2="977.7" stroke="#000" stroke-width="2.4" />
<text transform="translate(263.32 1007.60)" font-size="25.8" font-weight="bold">4000</text>
<line x1="387.3" y1="970.2" x2="387.3" y2="977.7" stroke="#000" stroke-width="2.4" />
<text transform="translate(358.66 1007.60)" font-size="25.8" font-weight="bold">6000</text>
<line x1="482.5" y1="970.2" x2="482.5" y2="977.7" stroke="#000" stroke-width="2.4" />
<text transform="translate(453.93 1007.60)" font-size="25.8" font-weight="bold">8000</text>
<text transform="translate(152.90 1049.20) scale(1.0834 1)" font-size="27.5" font-weight="bold" font-style="italic">ERα</text>
<text transform="translate(212.77 1049.20) scale(1.0834 1)" font-size="27.5" font-weight="bold">&#160;mRNA expression</text>
<text transform="translate(21.20 1016.73) rotate(-90) scale(1.0089 1)" font-size="29.5" font-weight="bold">Fasting blood glucose</text>
<text transform="translate(121.34 681.20) scale(1.0596 1)" font-size="28.5" font-weight="bold">R = -0.56</text>
<text transform="translate(122.71 716.50) scale(1.0422 1)" font-size="28.5" font-weight="bold" font-style="italic">P</text>
<text transform="translate(142.52 716.50) scale(1.0422 1)" font-size="28.5" font-weight="bold">&#160;= 0.016</text>
<line x1="210.8" y1="847.8" x2="464.1" y2="925.9" stroke="#000" stroke-width="2.0" stroke-dasharray="2 2.2"/>
<circle cx="212.3" cy="838.4" r="4.6" fill="#000"/>
<circle cx="241.8" cy="760.9" r="4.6" fill="#000"/>
<circle cx="249.6" cy="839.8" r="4.6" fill="#000"/>
<circle cx="274.5" cy="878.5" r="4.6" fill="#000"/>
<circle cx="263.3" cy="901.5" r="4.6" fill="#000"/>
<circle cx="291.2" cy="910.9" r="4.6" fill="#000"/>
<circle cx="287.7" cy="916.7" r="4.6" fill="#000"/>
<circle cx="307.5" cy="898.0" r="4.6" fill="#000"/>
<circle cx="319.9" cy="905.2" r="4.6" fill="#000"/>
<circle cx="342.8" cy="866.5" r="4.6" fill="#000"/>
<circle cx="346.5" cy="860.8" r="4.6" fill="#000"/>
<circle cx="342.8" cy="912.1" r="4.6" fill="#000"/>
<circle cx="393.6" cy="916.7" r="4.6" fill="#000"/>
<circle cx="413.1" cy="894.3" r="4.6" fill="#000"/>
<circle cx="425.1" cy="919.6" r="4.6" fill="#000"/>
<circle cx="446.1" cy="918.1" r="4.6" fill="#000"/>
<circle cx="464.1" cy="899.5" r="4.6" fill="#000"/>
<line x1="561.8" y1="735.8" x2="561.8" y2="970.6" stroke="#000" stroke-width="2.4" />
<line x1="554.0" y1="969.4" x2="561.8" y2="969.4" stroke="#000" stroke-width="2.4" />
<text transform="translate(525.61 978.56)" font-size="25.8" font-weight="bold">0</text>
<line x1="554.0" y1="930.7" x2="561.8" y2="930.7" stroke="#000" stroke-width="2.4" />
<text transform="translate(525.61 939.83)" font-size="25.8" font-weight="bold">2</text>
<line x1="554.0" y1="891.9" x2="561.8" y2="891.9" stroke="#000" stroke-width="2.4" />
<text transform="translate(524.71 901.10)" font-size="25.8" font-weight="bold">4</text>
<line x1="554.0" y1="853.2" x2="561.8" y2="853.2" stroke="#000" stroke-width="2.4" />
<text transform="translate(525.48 862.37)" font-size="25.8" font-weight="bold">6</text>
<line x1="554.0" y1="814.5" x2="561.8" y2="814.5" stroke="#000" stroke-width="2.4" />
<text transform="translate(525.36 823.64)" font-size="25.8" font-weight="bold">8</text>
<line x1="554.0" y1="775.8" x2="561.8" y2="775.8" stroke="#000" stroke-width="2.4" />
<text transform="translate(511.29 784.91)" font-size="25.8" font-weight="bold">10</text>
<line x1="554.0" y1="737.0" x2="561.8" y2="737.0" stroke="#000" stroke-width="2.4" />
<text transform="translate(511.29 746.18)" font-size="25.8" font-weight="bold">12</text>
<line x1="554.1" y1="969.4" x2="936.8" y2="969.4" stroke="#000" stroke-width="2.4" />
<line x1="561.8" y1="969.4" x2="561.8" y2="976.9" stroke="#000" stroke-width="2.4" />
<text transform="translate(554.64 1005.80)" font-size="25.8" font-weight="bold">0</text>
<line x1="655.0" y1="969.4" x2="655.0" y2="976.9" stroke="#000" stroke-width="2.4" />
<text transform="translate(626.36 1005.80)" font-size="25.8" font-weight="bold">2000</text>
<line x1="750.3" y1="969.4" x2="750.3" y2="976.9" stroke="#000" stroke-width="2.4" />
<text transform="translate(721.92 1005.80)" font-size="25.8" font-weight="bold">4000</text>
<line x1="843.0" y1="969.4" x2="843.0" y2="976.9" stroke="#000" stroke-width="2.4" />
<text transform="translate(814.36 1005.80)" font-size="25.8" font-weight="bold">6000</text>
<line x1="936.8" y1="969.4" x2="936.8" y2="976.9" stroke="#000" stroke-width="2.4" />
<text transform="translate(908.23 1005.80)" font-size="25.8" font-weight="bold">8000</text>
<text transform="translate(607.10 1043.10) scale(1.0881 1)" font-size="27.5" font-weight="bold" font-style="italic">ERα</text>
<text transform="translate(667.23 1043.10) scale(1.0881 1)" font-size="27.5" font-weight="bold">&#160;mRNA expression</text>
<text transform="translate(505.90 914.76) rotate(-90) scale(1.0378 1)" font-size="32" font-weight="bold">HbA1C</text>
<text transform="translate(594.36 680.20) scale(1.0457 1)" font-size="28.5" font-weight="bold">R = -0.53</text>
<text transform="translate(595.71 714.70) scale(1.0373 1)" font-size="28.5" font-weight="bold" font-style="italic">P</text>
<text transform="translate(615.43 714.70) scale(1.0373 1)" font-size="28.5" font-weight="bold">&#160;= 0.019</text>
<line x1="668.8" y1="810.2" x2="917.5" y2="880.5" stroke="#000" stroke-width="2.0" stroke-dasharray="2 2.2"/>
<circle cx="670.3" cy="789.2" r="4.6" fill="#000"/>
<circle cx="698.1" cy="768.6" r="4.6" fill="#000"/>
<circle cx="759.8" cy="752.5" r="4.6" fill="#000"/>
<circle cx="731.7" cy="799.3" r="4.6" fill="#000"/>
<circle cx="706.7" cy="834.6" r="4.6" fill="#000"/>
<circle cx="721.0" cy="865.3" r="4.6" fill="#000"/>
<circle cx="745.4" cy="869.0" r="4.6" fill="#000"/>
<circle cx="747.7" cy="865.3" r="4.6" fill="#000"/>
<circle cx="764.6" cy="861.5" r="4.6" fill="#000"/>
<circle cx="776.4" cy="872.4" r="4.6" fill="#000"/>
<circle cx="798.5" cy="851.5" r="4.6" fill="#000"/>
<circle cx="802.8" cy="848.1" r="4.6" fill="#000"/>
<circle cx="799.1" cy="870.4" r="4.6" fill="#000"/>
<circle cx="848.7" cy="870.4" r="4.6" fill="#000"/>
<circle cx="867.3" cy="861.5" r="4.6" fill="#000"/>
<circle cx="879.7" cy="865.3" r="4.6" fill="#000"/>
<circle cx="900.3" cy="876.2" r="4.6" fill="#000"/>
<circle cx="917.5" cy="852.9" r="4.6" fill="#000"/>
<line x1="1043.8" y1="735.0" x2="1043.8" y2="1028.5" stroke="#000" stroke-width="2.4" />
<line x1="1036.0" y1="1027.6" x2="1043.8" y2="1027.6" stroke="#000" stroke-width="2.4" />
<text transform="translate(982.65 1036.76)" font-size="25.8" font-weight="bold">-20</text>
<line x1="1036.0" y1="969.4" x2="1043.8" y2="969.4" stroke="#000" stroke-width="2.4" />
<text transform="translate(1005.61 978.56)" font-size="25.8" font-weight="bold">0</text>
<line x1="1036.0" y1="911.2" x2="1043.8" y2="911.2" stroke="#000" stroke-width="2.4" />
<text transform="translate(991.29 920.36)" font-size="25.8" font-weight="bold">20</text>
<line x1="1036.0" y1="853.0" x2="1043.8" y2="853.0" stroke="#000" stroke-width="2.4" />
<text transform="translate(991.29 862.16)" font-size="25.8" font-weight="bold">40</text>
<line x1="1036.0" y1="794.8" x2="1043.8" y2="794.8" stroke="#000" stroke-width="2.4" />
<text transform="translate(991.29 803.96)" font-size="25.8" font-weight="bold">60</text>
<line x1="1036.0" y1="736.6" x2="1043.8" y2="736.6" stroke="#000" stroke-width="2.4" />
<text transform="translate(991.29 745.76)" font-size="25.8" font-weight="bold">80</text>
<line x1="1036.1" y1="969.4" x2="1416.8" y2="969.4" stroke="#000" stroke-width="2.4" />
<line x1="1043.8" y1="969.4" x2="1043.8" y2="976.9" stroke="#000" stroke-width="2.4" />
<text transform="translate(1036.64 1008.70)" font-size="25.8" font-weight="bold">0</text>
<line x1="1136.5" y1="969.4" x2="1136.5" y2="976.9" stroke="#000" stroke-width="2.4" />
<text transform="translate(1107.86 1008.70)" font-size="25.8" font-weight="bold">2000</text>
<line x1="1230.3" y1="969.4" x2="1230.3" y2="976.9" stroke="#000" stroke-width="2.4" />
<text transform="translate(1201.92 1008.70)" font-size="25.8" font-weight="bold">4000</text>
<line x1="1323.5" y1="969.4" x2="1323.5" y2="976.9" stroke="#000" stroke-width="2.4" />
<text transform="translate(1294.86 1008.70)" font-size="25.8" font-weight="bold">6000</text>
<line x1="1416.8" y1="969.4" x2="1416.8" y2="976.9" stroke="#000" stroke-width="2.4" />
<text transform="translate(1388.23 1008.70)" font-size="25.8" font-weight="bold">8000</text>
<text transform="translate(1099.20 1047.40) scale(1.0861 1)" font-size="27.5" font-weight="bold" font-style="italic">ERα</text>
<text transform="translate(1159.22 1047.40) scale(1.0861 1)" font-size="27.5" font-weight="bold">&#160;mRNA expression</text>
<text transform="translate(987.30 950.67) rotate(-90) scale(1.0429 1)" font-size="32" font-weight="bold">HOMA-IR</text>
<text transform="translate(1082.35 666.80) scale(1.0522 1)" font-size="28.5" font-weight="bold">R = -0.40</text>
<text transform="translate(1083.71 702.30) scale(1.0266 1)" font-size="28.5" font-weight="bold" font-style="italic">P</text>
<text transform="translate(1103.23 702.30) scale(1.0266 1)" font-size="28.5" font-weight="bold">&#160;= 0.091</text>
<line x1="1150.8" y1="903.4" x2="1399.0" y2="975.7" stroke="#000" stroke-width="2.0" stroke-dasharray="2 2.2"/>
<circle cx="1152.3" cy="946.2" r="4.6" fill="#000"/>
<circle cx="1180.4" cy="760.6" r="4.6" fill="#000"/>
<circle cx="1188.4" cy="965.7" r="4.6" fill="#000"/>
<circle cx="1201.9" cy="932.1" r="4.6" fill="#000"/>
<circle cx="1213.1" cy="867.3" r="4.6" fill="#000"/>
<circle cx="1226.0" cy="960.8" r="4.6" fill="#000"/>
<circle cx="1228.9" cy="966.2" r="4.6" fill="#000"/>
<circle cx="1245.5" cy="962.2" r="4.6" fill="#000"/>
<circle cx="1257.0" cy="959.4" r="4.6" fill="#000"/>
<circle cx="1279.1" cy="910.3" r="4.6" fill="#000"/>
<circle cx="1283.4" cy="931.2" r="4.6" fill="#000"/>
<circle cx="1279.4" cy="961.9" r="4.6" fill="#000"/>
<circle cx="1329.3" cy="969.4" r="4.6" fill="#000"/>
<circle cx="1348.8" cy="937.0" r="4.6" fill="#000"/>
<circle cx="1360.3" cy="968.5" r="4.6" fill="#000"/>
<circle cx="1380.3" cy="969.4" r="4.6" fill="#000"/>
<circle cx="1398.4" cy="966.2" r="4.6" fill="#000"/>
<line x1="1587.8" y1="735.8" x2="1587.8" y2="970.8" stroke="#000" stroke-width="2.4" />
<line x1="1580.0" y1="969.6" x2="1587.8" y2="969.6" stroke="#000" stroke-width="2.4" />
<text transform="translate(1552.21 978.76)" font-size="25.8" font-weight="bold">0</text>
<line x1="1580.0" y1="930.8" x2="1587.8" y2="930.8" stroke="#000" stroke-width="2.4" />
<text transform="translate(1537.89 939.99)" font-size="25.8" font-weight="bold">20</text>
<line x1="1580.0" y1="892.1" x2="1587.8" y2="892.1" stroke="#000" stroke-width="2.4" />
<text transform="translate(1537.89 901.22)" font-size="25.8" font-weight="bold">40</text>
<line x1="1580.0" y1="853.3" x2="1587.8" y2="853.3" stroke="#000" stroke-width="2.4" />
<text transform="translate(1537.89 862.45)" font-size="25.8" font-weight="bold">60</text>
<line x1="1580.0" y1="814.5" x2="1587.8" y2="814.5" stroke="#000" stroke-width="2.4" />
<text transform="translate(1537.89 823.68)" font-size="25.8" font-weight="bold">80</text>
<line x1="1580.0" y1="775.8" x2="1587.8" y2="775.8" stroke="#000" stroke-width="2.4" />
<text transform="translate(1523.58 784.91)" font-size="25.8" font-weight="bold">100</text>
<line x1="1580.0" y1="737.0" x2="1587.8" y2="737.0" stroke="#000" stroke-width="2.4" />
<text transform="translate(1523.58 746.14)" font-size="25.8" font-weight="bold">120</text>
<line x1="1579.8" y1="969.6" x2="1951.7" y2="969.6" stroke="#000" stroke-width="2.4" />
<line x1="1587.8" y1="969.6" x2="1587.8" y2="977.1" stroke="#000" stroke-width="2.4" />
<text transform="translate(1580.64 1007.10)" font-size="25.8" font-weight="bold">0</text>
<line x1="1678.4" y1="969.6" x2="1678.4" y2="977.1" stroke="#000" stroke-width="2.4" />
<text transform="translate(1649.76 1007.10)" font-size="25.8" font-weight="bold">2000</text>
<line x1="1769.6" y1="969.6" x2="1769.6" y2="977.1" stroke="#000" stroke-width="2.4" />
<text transform="translate(1741.22 1007.10)" font-size="25.8" font-weight="bold">4000</text>
<line x1="1860.5" y1="969.6" x2="1860.5" y2="977.1" stroke="#000" stroke-width="2.4" />
<text transform="translate(1831.86 1007.10)" font-size="25.8" font-weight="bold">6000</text>
<line x1="1951.7" y1="969.6" x2="1951.7" y2="977.1" stroke="#000" stroke-width="2.4" />
<text transform="translate(1923.13 1007.10)" font-size="25.8" font-weight="bold">8000</text>
<text transform="translate(1615.80 1044.30) scale(1.0857 1)" font-size="27.5" font-weight="bold" font-style="italic">ERα</text>
<text transform="translate(1675.80 1044.30) scale(1.0857 1)" font-size="27.5" font-weight="bold">&#160;mRNA expression</text>
<text transform="translate(1517.30 971.78) rotate(-90) scale(1.0145 1)" font-size="33" font-weight="bold">Fasting insulin</text>
<text transform="translate(1598.55 663.50) scale(1.0505 1)" font-size="28.5" font-weight="bold">R = -0.40</text>
<text transform="translate(1599.90 698.50) scale(1.0563 1)" font-size="28.5" font-weight="bold" font-style="italic">P</text>
<text transform="translate(1619.98 698.50) scale(1.0563 1)" font-size="28.5" font-weight="bold">&#160;= 0.110</text>
<line x1="1692.7" y1="876.8" x2="1932.0" y2="959.5" stroke="#000" stroke-width="2.0" stroke-dasharray="2 2.2"/>
<circle cx="1693.0" cy="936.3" r="4.6" fill="#000"/>
<circle cx="1720.3" cy="784.6" r="4.6" fill="#000"/>
<circle cx="1728.6" cy="964.2" r="4.6" fill="#000"/>
<circle cx="1742.0" cy="867.9" r="4.6" fill="#000"/>
<circle cx="1753.1" cy="762.4" r="4.6" fill="#000"/>
<circle cx="1765.2" cy="938.8" r="4.6" fill="#000"/>
<circle cx="1769.0" cy="959.5" r="4.6" fill="#000"/>
<circle cx="1783.9" cy="952.1" r="4.6" fill="#000"/>
<circle cx="1796.6" cy="941.7" r="4.6" fill="#000"/>
<circle cx="1817.6" cy="863.1" r="4.6" fill="#000"/>
<circle cx="1821.4" cy="905.4" r="4.6" fill="#000"/>
<circle cx="1817.6" cy="945.2" r="4.6" fill="#000"/>
<circle cx="1865.9" cy="966.5" r="4.6" fill="#000"/>
<circle cx="1885.6" cy="890.8" r="4.6" fill="#000"/>
<circle cx="1896.7" cy="963.9" r="4.6" fill="#000"/>
<circle cx="1916.8" cy="965.5" r="4.6" fill="#000"/>
<circle cx="1933.6" cy="962.6" r="4.6" fill="#000"/>
<line x1="96.8" y1="1432.5" x2="96.8" y2="1676.9" stroke="#000" stroke-width="3.8" />
<line x1="90.4" y1="1675.0" x2="96.8" y2="1675.0" stroke="#000" stroke-width="3.8" />
<text transform="translate(70.82 1684.41)" font-size="26.5" stroke="#000" stroke-width="0.75">0</text>
<line x1="90.4" y1="1594.8" x2="96.8" y2="1594.8" stroke="#000" stroke-width="3.8" />
<text transform="translate(41.40 1604.21)" font-size="26.5" stroke="#000" stroke-width="0.75">100</text>
<line x1="90.4" y1="1514.6" x2="96.8" y2="1514.6" stroke="#000" stroke-width="3.8" />
<text transform="translate(41.40 1524.01)" font-size="26.5" stroke="#000" stroke-width="0.75">200</text>
<line x1="90.4" y1="1434.4" x2="96.8" y2="1434.4" stroke="#000" stroke-width="3.8" />
<text transform="translate(41.40 1443.81)" font-size="26.5" stroke="#000" stroke-width="0.75">300</text>
<line x1="90.4" y1="1675.0" x2="458.8" y2="1675.0" stroke="#000" stroke-width="3.8" />
<line x1="186.5" y1="1675.0" x2="186.5" y2="1682.0" stroke="#000" stroke-width="3.8" />
<line x1="366.4" y1="1675.0" x2="366.4" y2="1682.0" stroke="#000" stroke-width="3.8" />
<text transform="translate(130.19 1707.60) scale(1.0897 1)" font-size="26.5" stroke="#000" stroke-width="0.75">Feeding</text>
<text transform="translate(312.91 1707.60) scale(1.1279 1)" font-size="26.5" stroke="#000" stroke-width="0.75">Fasting</text>
<text transform="translate(30.40 1690.66) rotate(-90) scale(0.9466 1)" font-size="27" font-weight="bold">Blood Glucose (mg/dL)</text>
<circle cx="97.3" cy="1365.3" r="6" fill="#000"/>
<text transform="translate(122.86 1376.10) scale(1.0317 1)" font-size="26" font-weight="bold">Male&#160;</text>
<text transform="translate(189.94 1376.10) scale(1.0317 1)" font-size="26" font-weight="bold" font-style="italic">ER</text>
<text transform="translate(227.21 1376.10) scale(1.0317 1)" font-size="29.120000000000005" font-style="italic" font-family="'Liberation Serif', 'Times New Roman', serif">α</text>
<text transform="translate(242.98 1364.10) scale(1.0317 1)" font-size="19">F/F</text>
<rect x="280.4" y="1359.5" width="11.5" height="11.5" fill="#f00"/>
<text transform="translate(311.93 1376.10) scale(1.0479 1)" font-size="26" font-weight="bold">Male&#160;</text>
<text transform="translate(380.07 1376.10) scale(1.0479 1)" font-size="26" font-weight="bold" font-style="italic">ER</text>
<text transform="translate(417.92 1376.10) scale(1.0479 1)" font-size="29.120000000000005" font-style="italic" font-family="'Liberation Serif', 'Times New Roman', serif">α</text>
<text transform="translate(433.94 1364.10) scale(1.0479 1)" font-size="19">LivKO</text>
<circle cx="137.7" cy="1522.6" r="5.4" fill="#000"/>
<circle cx="146.3" cy="1527.0" r="5.4" fill="#000"/>
<circle cx="160.6" cy="1527.0" r="5.4" fill="#000"/>
<circle cx="168.5" cy="1521.9" r="5.4" fill="#000"/>
<circle cx="152.0" cy="1531.2" r="5.4" fill="#000"/>
<circle cx="137.0" cy="1547.7" r="5.4" fill="#000"/>
<circle cx="147.7" cy="1555.6" r="5.4" fill="#000"/>
<circle cx="158.5" cy="1554.2" r="5.4" fill="#000"/>
<circle cx="170.7" cy="1547.7" r="5.4" fill="#000"/>
<circle cx="152.5" cy="1536.0" r="5.4" fill="#000"/>
<line x1="130.8" y1="1538.0" x2="175.8" y2="1538.0" stroke="#000" stroke-width="4.2" />
<line x1="153.3" y1="1533.0" x2="153.3" y2="1542.7" stroke="#000" stroke-width="4.2" />
<line x1="141.8" y1="1533.0" x2="164.8" y2="1533.0" stroke="#000" stroke-width="4.2" />
<line x1="141.8" y1="1542.7" x2="164.8" y2="1542.7" stroke="#000" stroke-width="4.2" />
<rect x="215.0" y="1464.0" width="11.2" height="11.2" fill="#f00"/>
<rect x="215.0" y="1480.4" width="11.2" height="11.2" fill="#f00"/>
<rect x="200.9" y="1482.6" width="11.2" height="11.2" fill="#f00"/>
<rect x="228.9" y="1482.6" width="11.2" height="11.2" fill="#f00"/>
<rect x="215.0" y="1497.0" width="11.2" height="11.2" fill="#f00"/>
<rect x="215.0" y="1523.5" width="11.2" height="11.2" fill="#f00"/>
<line x1="197.9" y1="1494.0" x2="243.1" y2="1494.0" stroke="#f00" stroke-width="4.2" />
<line x1="220.5" y1="1484.6" x2="220.5" y2="1502.6" stroke="#f00" stroke-width="4.2" />
<line x1="209.4" y1="1484.6" x2="231.6" y2="1484.6" stroke="#f00" stroke-width="4.2" />
<line x1="209.4" y1="1502.6" x2="231.6" y2="1502.6" stroke="#f00" stroke-width="4.2" />
<circle cx="325.6" cy="1528.3" r="5.4" fill="#000"/>
<circle cx="321.3" cy="1535.5" r="5.4" fill="#000"/>
<circle cx="332.8" cy="1537.0" r="5.4" fill="#000"/>
<circle cx="344.2" cy="1535.5" r="5.4" fill="#000"/>
<circle cx="319.8" cy="1562.7" r="5.4" fill="#000"/>
<circle cx="332.8" cy="1568.4" r="5.4" fill="#000"/>
<circle cx="347.1" cy="1562.7" r="5.4" fill="#000"/>
<line x1="311.2" y1="1546.4" x2="355.8" y2="1546.4" stroke="#000" stroke-width="4.2" />
<line x1="333.5" y1="1541.6" x2="333.5" y2="1551.2" stroke="#000" stroke-width="4.2" />
<line x1="322.5" y1="1541.6" x2="344.5" y2="1541.6" stroke="#000" stroke-width="4.2" />
<line x1="322.5" y1="1551.2" x2="344.5" y2="1551.2" stroke="#000" stroke-width="4.2" />
<rect x="380.2" y="1503.5" width="11.2" height="11.2" fill="#f00"/>
<rect x="394.6" y="1506.9" width="11.2" height="11.2" fill="#f00"/>
<rect x="408.9" y="1504.9" width="11.2" height="11.2" fill="#f00"/>
<rect x="388.0" y="1526.4" width="11.2" height="11.2" fill="#f00"/>
<rect x="401.7" y="1528.4" width="11.2" height="11.2" fill="#f00"/>
<rect x="394.6" y="1544.2" width="11.2" height="11.2" fill="#f00"/>
<line x1="378.7" y1="1524.9" x2="423.1" y2="1524.9" stroke="#f00" stroke-width="4.2" />
<line x1="400.9" y1="1517.7" x2="400.9" y2="1532.6" stroke="#f00" stroke-width="4.2" />
<line x1="389.9" y1="1517.7" x2="411.9" y2="1517.7" stroke="#f00" stroke-width="4.2" />
<line x1="389.9" y1="1532.6" x2="411.9" y2="1532.6" stroke="#f00" stroke-width="4.2" />
<polyline points="156.0,1507.6 156.0,1442.3 218.0,1442.3 218.0,1460.2" fill="none" stroke="#000" stroke-width="3.8" stroke-linejoin="miter" />
<polyline points="335.6,1519.7 335.6,1476.1 401.0,1476.1 401.0,1497.6" fill="none" stroke="#000" stroke-width="3.8" stroke-linejoin="miter" />
<text transform="translate(178.45 1444.92) scale(1.1788 1)" font-size="26" font-weight="bold">**</text>
<text transform="translate(365.39 1482.12) scale(0.8097 1)" font-size="26" font-weight="bold">*</text>
<line x1="92.9" y1="2092.3" x2="92.9" y2="2337.4" stroke="#000" stroke-width="3.8" />
<line x1="85.7" y1="2335.5" x2="92.9" y2="2335.5" stroke="#000" stroke-width="3.8" />
<text transform="translate(39.85 2344.73)" font-size="26" font-weight="bold">100</text>
<line x1="85.7" y1="2295.3" x2="92.9" y2="2295.3" stroke="#000" stroke-width="3.8" />
<text transform="translate(39.85 2304.51)" font-size="26" font-weight="bold">120</text>
<line x1="85.7" y1="2255.1" x2="92.9" y2="2255.1" stroke="#000" stroke-width="3.8" />
<text transform="translate(39.85 2264.29)" font-size="26" font-weight="bold">140</text>
<line x1="85.7" y1="2214.8" x2="92.9" y2="2214.8" stroke="#000" stroke-width="3.8" />
<text transform="translate(39.85 2224.07)" font-size="26" font-weight="bold">160</text>
<line x1="85.7" y1="2174.6" x2="92.9" y2="2174.6" stroke="#000" stroke-width="3.8" />
<text transform="translate(39.85 2183.85)" font-size="26" font-weight="bold">180</text>
<line x1="85.7" y1="2134.4" x2="92.9" y2="2134.4" stroke="#000" stroke-width="3.8" />
<text transform="translate(39.85 2143.63)" font-size="26" font-weight="bold">200</text>
<line x1="85.7" y1="2094.2" x2="92.9" y2="2094.2" stroke="#000" stroke-width="3.8" />
<text transform="translate(39.85 2103.41)" font-size="26" font-weight="bold">220</text>
<line x1="85.7" y1="2335.5" x2="454.0" y2="2335.5" stroke="#000" stroke-width="3.8" />
<line x1="182.0" y1="2335.5" x2="182.0" y2="2342.5" stroke="#000" stroke-width="3.8" />
<line x1="362.5" y1="2335.5" x2="362.5" y2="2342.5" stroke="#000" stroke-width="3.8" />
<text transform="translate(126.53 2367.80) scale(1.0267 1)" font-size="26.5" font-weight="bold">Feeding</text>
<text transform="translate(310.65 2367.80) scale(1.0180 1)" font-size="26.5" font-weight="bold">Fasting</text>
<text transform="translate(26.80 2350.06) rotate(-90) scale(0.9439 1)" font-size="27" font-weight="bold">Blood Glucose (mg/dL)</text>
<circle cx="70.1" cy="2023.8" r="6" fill="#000"/>
<text transform="translate(96.68 2033.60) scale(1.0185 1)" font-size="26" font-weight="bold">Female&#160;</text>
<text transform="translate(195.30 2033.60) scale(1.0185 1)" font-size="26" font-weight="bold" font-style="italic">ER</text>
<text transform="translate(232.08 2033.60) scale(1.0185 1)" font-size="29.120000000000005" font-style="italic" font-family="'Liberation Serif', 'Times New Roman', serif">α</text>
<text transform="translate(247.65 2021.60) scale(1.0185 1)" font-size="19" font-weight="bold">F/F</text>
<rect x="288.9" y="2018.0" width="11.5" height="11.5" fill="#f00"/>
<text transform="translate(321.27 2033.60) scale(1.0216 1)" font-size="26" font-weight="bold">Female&#160;</text>
<text transform="translate(420.19 2033.60) scale(1.0216 1)" font-size="26" font-weight="bold" font-style="italic">ER</text>
<text transform="translate(457.09 2033.60) scale(1.0216 1)" font-size="29.120000000000005" font-style="italic" font-family="'Liberation Serif', 'Times New Roman', serif">α</text>
<text transform="translate(472.71 2021.60) scale(1.0216 1)" font-size="19" font-weight="bold">LivKO</text>
<circle cx="134.8" cy="2197.1" r="5.4" fill="#000"/>
<circle cx="149.2" cy="2205.2" r="5.4" fill="#000"/>
<circle cx="163.5" cy="2201.3" r="5.4" fill="#000"/>
<circle cx="134.8" cy="2231.4" r="5.4" fill="#000"/>
<circle cx="149.2" cy="2237.4" r="5.4" fill="#000"/>
<circle cx="163.5" cy="2231.4" r="5.4" fill="#000"/>
<circle cx="149.2" cy="2277.4" r="5.4" fill="#000"/>
<line x1="126.8" y1="2226.0" x2="171.6" y2="2226.0" stroke="#000" stroke-width="4.2" />
<line x1="149.2" y1="2215.6" x2="149.2" y2="2235.9" stroke="#000" stroke-width="4.2" />
<line x1="137.7" y1="2215.6" x2="160.7" y2="2215.6" stroke="#000" stroke-width="4.2" />
<line x1="137.7" y1="2235.9" x2="160.7" y2="2235.9" stroke="#000" stroke-width="4.2" />
<rect x="196.4" y="2142.0" width="11.2" height="11.2" fill="#f00"/>
<rect x="210.7" y="2145.3" width="11.2" height="11.2" fill="#f00"/>
<rect x="225.0" y="2142.0" width="11.2" height="11.2" fill="#f00"/>
<rect x="225.0" y="2161.4" width="11.2" height="11.2" fill="#f00"/>
<rect x="196.4" y="2171.2" width="11.2" height="11.2" fill="#f00"/>
<rect x="210.7" y="2175.7" width="11.2" height="11.2" fill="#f00"/>
<rect x="210.7" y="2202.0" width="11.2" height="11.2" fill="#f00"/>
<line x1="193.9" y1="2168.5" x2="238.7" y2="2168.5" stroke="#f00" stroke-width="4.2" />
<line x1="216.3" y1="2160.4" x2="216.3" y2="2176.2" stroke="#f00" stroke-width="4.2" />
<line x1="204.8" y1="2160.4" x2="227.8" y2="2160.4" stroke="#f00" stroke-width="4.2" />
<line x1="204.8" y1="2176.2" x2="227.8" y2="2176.2" stroke="#f00" stroke-width="4.2" />
<circle cx="321.6" cy="2213.2" r="5.4" fill="#000"/>
<circle cx="335.6" cy="2221.0" r="5.4" fill="#000"/>
<circle cx="314.7" cy="2239.5" r="5.4" fill="#000"/>
<circle cx="343.1" cy="2241.0" r="5.4" fill="#000"/>
<circle cx="328.8" cy="2251.4" r="5.4" fill="#000"/>
<circle cx="328.8" cy="2271.4" r="5.4" fill="#000"/>
<circle cx="328.8" cy="2297.7" r="5.4" fill="#000"/>
<line x1="306.7" y1="2247.5" x2="350.5" y2="2247.5" stroke="#000" stroke-width="4.2" />
<line x1="328.6" y1="2237.1" x2="328.6" y2="2258.3" stroke="#000" stroke-width="4.2" />
<line x1="317.1" y1="2237.1" x2="340.1" y2="2237.1" stroke="#000" stroke-width="4.2" />
<line x1="317.1" y1="2258.3" x2="340.1" y2="2258.3" stroke="#000" stroke-width="4.2" />
<rect x="383.7" y="2170.6" width="11.2" height="11.2" fill="#f00"/>
<rect x="405.2" y="2181.7" width="11.2" height="11.2" fill="#f00"/>
<rect x="398.0" y="2189.7" width="11.2" height="11.2" fill="#f00"/>
<rect x="383.7" y="2202.0" width="11.2" height="11.2" fill="#f00"/>
<rect x="383.7" y="2222.0" width="11.2" height="11.2" fill="#f00"/>
<rect x="398.0" y="2226.4" width="11.2" height="11.2" fill="#f00"/>
<rect x="390.6" y="2245.8" width="11.2" height="11.2" fill="#f00"/>
<line x1="374.4" y1="2211.1" x2="418.6" y2="2211.1" stroke="#f00" stroke-width="4.2" />
<line x1="396.5" y1="2201.3" x2="396.5" y2="2221.0" stroke="#f00" stroke-width="4.2" />
<line x1="385.0" y1="2201.3" x2="408.0" y2="2201.3" stroke="#f00" stroke-width="4.2" />
<line x1="385.0" y1="2221.0" x2="408.0" y2="2221.0" stroke="#f00" stroke-width="4.2" />
<polyline points="148.3,2189.4 148.3,2116.3 216.3,2116.3 216.3,2135.0" fill="none" stroke="#000" stroke-width="3.8" stroke-linejoin="miter" />
<polyline points="329.0,2199.2 329.0,2136.6 396.8,2136.6 396.8,2156.0" fill="none" stroke="#000" stroke-width="3.8" stroke-linejoin="miter" />
<text transform="translate(178.26 2110.30) scale(1.0857 1)" font-size="25" font-weight="bold">**</text>
<text transform="translate(360.49 2131.00) scale(0.8421 1)" font-size="25" font-weight="bold">*</text>
<text transform="translate(690.89 1320.00) scale(0.9810 1)" font-size="46" font-weight="bold">GTT</text>
<line x1="554.0" y1="1365.3" x2="578.7" y2="1365.3" stroke="#000" stroke-width="4.2" />
<circle cx="566.4" cy="1365.3" r="5.5" fill="#000"/>
<text transform="translate(591.96 1375.70) scale(1.0296 1)" font-size="26" font-weight="bold">Male&#160;</text>
<text transform="translate(658.91 1375.70) scale(1.0296 1)" font-size="26" font-weight="bold" font-style="italic">ER</text>
<text transform="translate(696.10 1375.70) scale(1.0296 1)" font-size="29.120000000000005" font-style="italic" font-family="'Liberation Serif', 'Times New Roman', serif">α</text>
<text transform="translate(711.84 1363.70) scale(1.0296 1)" font-size="19">F/F</text>
<line x1="756.8" y1="1365.3" x2="781.6" y2="1365.3" stroke="#f00" stroke-width="4.2" />
<rect x="764.0" y="1360.0" width="10.5" height="10.5" fill="#f00"/>
<text transform="translate(794.72 1375.70) scale(1.0521 1)" font-size="26" font-weight="bold">Male&#160;</text>
<text transform="translate(863.14 1375.70) scale(1.0521 1)" font-size="26" font-weight="bold" font-style="italic">ER</text>
<text transform="translate(901.14 1375.70) scale(1.0521 1)" font-size="29.120000000000005" font-style="italic" font-family="'Liberation Serif', 'Times New Roman', serif">α</text>
<text transform="translate(917.22 1363.70) scale(1.0521 1)" font-size="19">LivKO</text>
<line x1="562.9" y1="1432.0" x2="562.9" y2="1676.6" stroke="#000" stroke-width="3.8" />
<line x1="557.0" y1="1674.7" x2="562.9" y2="1674.7" stroke="#000" stroke-width="3.8" />
<text transform="translate(537.61 1683.93)" font-size="26" font-weight="bold">0</text>
<line x1="557.0" y1="1626.5" x2="562.9" y2="1626.5" stroke="#000" stroke-width="3.8" />
<text transform="translate(508.75 1635.77)" font-size="26" font-weight="bold">100</text>
<line x1="557.0" y1="1578.4" x2="562.9" y2="1578.4" stroke="#000" stroke-width="3.8" />
<text transform="translate(508.75 1587.61)" font-size="26" font-weight="bold">200</text>
<line x1="557.0" y1="1530.2" x2="562.9" y2="1530.2" stroke="#000" stroke-width="3.8" />
<text transform="translate(508.75 1539.45)" font-size="26" font-weight="bold">300</text>
<line x1="557.0" y1="1482.1" x2="562.9" y2="1482.1" stroke="#000" stroke-width="3.8" />
<text transform="translate(508.75 1491.29)" font-size="26" font-weight="bold">400</text>
<line x1="557.0" y1="1433.9" x2="562.9" y2="1433.9" stroke="#000" stroke-width="3.8" />
<text transform="translate(508.75 1443.13)" font-size="26" font-weight="bold">500</text>
<line x1="557.0" y1="1674.7" x2="925.0" y2="1674.7" stroke="#000" stroke-width="3.8" />
<line x1="562.9" y1="1674.7" x2="562.9" y2="1681.7" stroke="#000" stroke-width="3.8" />
<line x1="608.7" y1="1674.7" x2="608.7" y2="1681.7" stroke="#000" stroke-width="3.8" />
<line x1="652.8" y1="1674.7" x2="652.8" y2="1681.7" stroke="#000" stroke-width="3.8" />
<line x1="743.6" y1="1674.7" x2="743.6" y2="1681.7" stroke="#000" stroke-width="3.8" />
<line x1="833.3" y1="1674.7" x2="833.3" y2="1681.7" stroke="#000" stroke-width="3.8" />
<line x1="923.1" y1="1674.7" x2="923.1" y2="1681.7" stroke="#000" stroke-width="3.8" />
<text transform="translate(555.32 1708.20)" font-size="26" stroke="#000" stroke-width="0.75">0</text>
<text transform="translate(592.91 1710.70)" font-size="26" font-weight="bold">15</text>
<text transform="translate(637.80 1708.20)" font-size="26" stroke="#000" stroke-width="0.75">30</text>
<text transform="translate(728.38 1708.20)" font-size="26" stroke="#000" stroke-width="0.75">60</text>
<text transform="translate(817.84 1708.20)" font-size="26" stroke="#000" stroke-width="0.75">90</text>
<text transform="translate(900.94 1708.20)" font-size="26" stroke="#000" stroke-width="0.75">120</text>
<text transform="translate(678.34 1733.50) scale(0.9917 1)" font-size="26" font-weight="bold">Time (min)</text>
<text transform="translate(495.00 1690.66) rotate(-90) scale(0.9442 1)" font-size="27" font-weight="bold">Blood Glucose (mg/dL)</text>
<polyline points="562.9,1639.8 608.7,1509.4 652.8,1489.1 743.6,1547.3 833.3,1587.5 923.1,1607.0" fill="none" stroke="#f00" stroke-width="4.2" stroke-linejoin="miter" />
<line x1="608.7" y1="1503.0" x2="608.7" y2="1516.0" stroke="#f00" stroke-width="3.6" />
<line x1="602.2" y1="1503.0" x2="615.2" y2="1503.0" stroke="#f00" stroke-width="3.6" />
<line x1="602.2" y1="1516.0" x2="615.2" y2="1516.0" stroke="#f00" stroke-width="3.6" />
<rect x="556.9" y="1633.8" width="12" height="12" fill="#f00"/>
<rect x="602.7" y="1503.4" width="12" height="12" fill="#f00"/>
<rect x="646.8" y="1483.1" width="12" height="12" fill="#f00"/>
<rect x="737.6" y="1541.3" width="12" height="12" fill="#f00"/>
<rect x="827.3" y="1581.5" width="12" height="12" fill="#f00"/>
<rect x="917.1" y="1601.0" width="12" height="12" fill="#f00"/>
<polyline points="562.9,1644.2 608.7,1527.9 652.8,1505.5 743.6,1567.6 833.3,1604.0 923.1,1619.5" fill="none" stroke="#000" stroke-width="4.2" stroke-linejoin="miter" />
<circle cx="562.9" cy="1644.2" r="6" fill="#000"/>
<circle cx="608.7" cy="1527.9" r="6" fill="#000"/>
<circle cx="652.8" cy="1505.5" r="6" fill="#000"/>
<circle cx="743.6" cy="1567.6" r="6" fill="#000"/>
<circle cx="833.3" cy="1604.0" r="6" fill="#000"/>
<circle cx="923.1" cy="1619.5" r="6" fill="#000"/>
<text transform="translate(649.19 1488.32) scale(0.8097 1)" font-size="26" font-weight="bold">*</text>
<text transform="translate(744.86 1546.62) scale(1.0390 1)" font-size="26" font-weight="bold">**</text>
<text transform="translate(826.86 1586.92) scale(1.0989 1)" font-size="26" font-weight="bold">**</text>
<text transform="translate(916.25 1601.82) scale(1.1189 1)" font-size="26" font-weight="bold">**</text>
<text transform="translate(690.72 1974.80) scale(0.9654 1)" font-size="46" font-weight="bold">GTT</text>
<line x1="539.0" y1="2025.3" x2="564.4" y2="2025.3" stroke="#000" stroke-width="4.2" />
<circle cx="551.7" cy="2025.3" r="5.5" fill="#000"/>
<text transform="translate(577.57 2032.70) scale(1.0265 1)" font-size="26" font-weight="bold">Female&#160;</text>
<text transform="translate(676.96 2032.70) scale(1.0265 1)" font-size="26" font-weight="bold" font-style="italic">ER</text>
<text transform="translate(714.04 2032.70) scale(1.0265 1)" font-size="29.120000000000005" font-style="italic" font-family="'Liberation Serif', 'Times New Roman', serif">α</text>
<text transform="translate(729.73 2020.70) scale(1.0265 1)" font-size="19" font-weight="bold">F/F</text>
<line x1="765.8" y1="2025.3" x2="791.1" y2="2025.3" stroke="#f00" stroke-width="4.2" />
<rect x="773.2" y="2020.0" width="10.5" height="10.5" fill="#f00"/>
<text transform="translate(804.27 2032.70) scale(1.0256 1)" font-size="26" font-weight="bold">Female&#160;</text>
<text transform="translate(903.57 2032.70) scale(1.0256 1)" font-size="26" font-weight="bold" font-style="italic">ER</text>
<text transform="translate(940.61 2032.70) scale(1.0256 1)" font-size="29.120000000000005" font-style="italic" font-family="'Liberation Serif', 'Times New Roman', serif">α</text>
<text transform="translate(956.29 2020.70) scale(1.0256 1)" font-size="19" font-weight="bold">LivKO</text>
<line x1="562.9" y1="2091.4" x2="562.9" y2="2335.4" stroke="#000" stroke-width="3.8" />
<line x1="557.0" y1="2333.5" x2="562.9" y2="2333.5" stroke="#000" stroke-width="3.8" />
<text transform="translate(537.61 2342.73)" font-size="26" font-weight="bold">0</text>
<line x1="557.0" y1="2285.5" x2="562.9" y2="2285.5" stroke="#000" stroke-width="3.8" />
<text transform="translate(508.75 2294.69)" font-size="26" font-weight="bold">100</text>
<line x1="557.0" y1="2237.4" x2="562.9" y2="2237.4" stroke="#000" stroke-width="3.8" />
<text transform="translate(508.75 2246.65)" font-size="26" font-weight="bold">200</text>
<line x1="557.0" y1="2189.4" x2="562.9" y2="2189.4" stroke="#000" stroke-width="3.8" />
<text transform="translate(508.75 2198.61)" font-size="26" font-weight="bold">300</text>
<line x1="557.0" y1="2141.3" x2="562.9" y2="2141.3" stroke="#000" stroke-width="3.8" />
<text transform="translate(508.75 2150.57)" font-size="26" font-weight="bold">400</text>
<line x1="557.0" y1="2093.3" x2="562.9" y2="2093.3" stroke="#000" stroke-width="3.8" />
<text transform="translate(508.75 2102.53)" font-size="26" font-weight="bold">500</text>
<line x1="557.0" y1="2333.5" x2="925.0" y2="2333.5" stroke="#000" stroke-width="3.8" />
<line x1="562.9" y1="2333.5" x2="562.9" y2="2340.5" stroke="#000" stroke-width="3.8" />
<line x1="608.7" y1="2333.5" x2="608.7" y2="2340.5" stroke="#000" stroke-width="3.8" />
<line x1="652.8" y1="2333.5" x2="652.8" y2="2340.5" stroke="#000" stroke-width="3.8" />
<line x1="743.6" y1="2333.5" x2="743.6" y2="2340.5" stroke="#000" stroke-width="3.8" />
<line x1="833.3" y1="2333.5" x2="833.3" y2="2340.5" stroke="#000" stroke-width="3.8" />
<line x1="923.1" y1="2333.5" x2="923.1" y2="2340.5" stroke="#000" stroke-width="3.8" />
<text transform="translate(555.38 2366.90)" font-size="26" font-weight="bold">0</text>
<text transform="translate(592.91 2369.40)" font-size="26" font-weight="bold">15</text>
<text transform="translate(638.06 2366.90)" font-size="26" font-weight="bold">30</text>
<text transform="translate(728.63 2366.90)" font-size="26" font-weight="bold">60</text>
<text transform="translate(818.03 2366.90)" font-size="26" font-weight="bold">90</text>
<text transform="translate(901.20 2366.90)" font-size="26" font-weight="bold">120</text>
<text transform="translate(678.34 2393.10) scale(0.9917 1)" font-size="26" font-weight="bold">Time (min)</text>
<text transform="translate(496.00 2350.07) rotate(-90) scale(0.9541 1)" font-size="27" font-weight="bold">Blood Glucose (mg/dL)</text>
<polyline points="562.9,2295.6 608.7,2176.8 652.8,2162.5 743.6,2234.4 833.3,2264.8 923.1,2277.7" fill="none" stroke="#f00" stroke-width="4.2" stroke-linejoin="miter" />
<line x1="608.7" y1="2170.0" x2="608.7" y2="2184.0" stroke="#f00" stroke-width="3.6" />
<line x1="602.2" y1="2170.0" x2="615.2" y2="2170.0" stroke="#f00" stroke-width="3.6" />
<line x1="602.2" y1="2184.0" x2="615.2" y2="2184.0" stroke="#f00" stroke-width="3.6" />
<line x1="652.8" y1="2156.0" x2="652.8" y2="2169.0" stroke="#f00" stroke-width="3.6" />
<line x1="646.3" y1="2156.0" x2="659.3" y2="2156.0" stroke="#f00" stroke-width="3.6" />
<line x1="646.3" y1="2169.0" x2="659.3" y2="2169.0" stroke="#f00" stroke-width="3.6" />
<rect x="556.9" y="2289.6" width="12" height="12" fill="#f00"/>
<rect x="602.7" y="2170.8" width="12" height="12" fill="#f00"/>
<rect x="646.8" y="2156.5" width="12" height="12" fill="#f00"/>
<rect x="737.6" y="2228.4" width="12" height="12" fill="#f00"/>
<rect x="827.3" y="2258.8" width="12" height="12" fill="#f00"/>
<rect x="917.1" y="2271.7" width="12" height="12" fill="#f00"/>
<polyline points="562.9,2294.7 608.7,2191.8 652.8,2195.3 743.6,2264.8 833.3,2274.4 923.1,2280.4" fill="none" stroke="#000" stroke-width="4.2" stroke-linejoin="miter" />
<line x1="652.8" y1="2184.9" x2="652.8" y2="2206.0" stroke="#000" stroke-width="3.6" />
<line x1="646.3" y1="2184.9" x2="659.3" y2="2184.9" stroke="#000" stroke-width="3.6" />
<line x1="646.3" y1="2206.0" x2="659.3" y2="2206.0" stroke="#000" stroke-width="3.6" />
<circle cx="562.9" cy="2294.7" r="6" fill="#000"/>
<circle cx="608.7" cy="2191.8" r="6" fill="#000"/>
<circle cx="652.8" cy="2195.3" r="6" fill="#000"/>
<circle cx="743.6" cy="2264.8" r="6" fill="#000"/>
<circle cx="833.3" cy="2274.4" r="6" fill="#000"/>
<circle cx="923.1" cy="2280.4" r="6" fill="#000"/>
<text transform="translate(650.39 2155.32) scale(0.8097 1)" font-size="26" font-weight="bold">*</text>
<text transform="translate(741.77 2228.32) scale(1.0378 1)" font-size="26" font-weight="bold">***</text>
<text transform="translate(828.79 2261.32) scale(0.8097 1)" font-size="26" font-weight="bold">*</text>
<text transform="translate(1181.09 1319.00) scale(0.9748 1)" font-size="46" font-weight="bold">ITT</text>
<line x1="1044.4" y1="1362.3" x2="1069.8" y2="1362.3" stroke="#000" stroke-width="4.2" />
<circle cx="1057.1" cy="1362.3" r="5.5" fill="#000"/>
<text transform="translate(1083.59 1372.80) scale(1.0117 1)" font-size="26" font-weight="bold">Male-</text>
<text transform="translate(1150.83 1372.80) scale(1.0117 1)" font-size="26" font-weight="bold" font-style="italic">ER</text>
<text transform="translate(1187.37 1372.80) scale(1.0117 1)" font-size="29.120000000000005" font-style="italic" font-family="'Liberation Serif', 'Times New Roman', serif">α</text>
<text transform="translate(1202.84 1360.80) scale(1.0117 1)" font-size="19">F/F</text>
<line x1="1247.3" y1="1362.3" x2="1272.6" y2="1362.3" stroke="#f00" stroke-width="4.2" />
<circle cx="1259.9" cy="1362.3" r="5.5" fill="#f00"/>
<text transform="translate(1285.83 1372.80) scale(1.0503 1)" font-size="26" font-weight="bold">Male-</text>
<text transform="translate(1355.63 1372.80) scale(1.0503 1)" font-size="26" font-weight="bold" font-style="italic">ER</text>
<text transform="translate(1393.57 1372.80) scale(1.0503 1)" font-size="29.120000000000005" font-style="italic" font-family="'Liberation Serif', 'Times New Roman', serif">α</text>
<text transform="translate(1409.62 1360.80) scale(1.0503 1)" font-size="19">LivKO</text>
<line x1="1043.8" y1="1432.0" x2="1043.8" y2="1676.6" stroke="#000" stroke-width="3.8" />
<line x1="1037.0" y1="1674.7" x2="1043.8" y2="1674.7" stroke="#000" stroke-width="3.8" />
<text transform="translate(1003.05 1683.93)" font-size="26" stroke="#000" stroke-width="0.75">60</text>
<line x1="1037.0" y1="1626.5" x2="1043.8" y2="1626.5" stroke="#000" stroke-width="3.8" />
<text transform="translate(1003.05 1635.77)" font-size="26" stroke="#000" stroke-width="0.75">70</text>
<line x1="1037.0" y1="1578.4" x2="1043.8" y2="1578.4" stroke="#000" stroke-width="3.8" />
<text transform="translate(1003.05 1587.61)" font-size="26" stroke="#000" stroke-width="0.75">80</text>
<line x1="1037.0" y1="1530.2" x2="1043.8" y2="1530.2" stroke="#000" stroke-width="3.8" />
<text transform="translate(1003.05 1539.45)" font-size="26" stroke="#000" stroke-width="0.75">90</text>
<line x1="1037.0" y1="1482.1" x2="1043.8" y2="1482.1" stroke="#000" stroke-width="3.8" />
<text transform="translate(988.62 1491.29)" font-size="26" stroke="#000" stroke-width="0.75">100</text>
<line x1="1037.0" y1="1433.9" x2="1043.8" y2="1433.9" stroke="#000" stroke-width="3.8" />
<text transform="translate(990.44 1443.13)" font-size="26" stroke="#000" stroke-width="0.75">110</text>
<line x1="1037.0" y1="1674.7" x2="1404.9" y2="1674.7" stroke="#000" stroke-width="3.8" />
<line x1="1043.8" y1="1674.7" x2="1043.8" y2="1681.7" stroke="#000" stroke-width="3.8" />
<line x1="1133.3" y1="1674.7" x2="1133.3" y2="1681.7" stroke="#000" stroke-width="3.8" />
<line x1="1223.4" y1="1674.7" x2="1223.4" y2="1681.7" stroke="#000" stroke-width="3.8" />
<line x1="1312.9" y1="1674.7" x2="1312.9" y2="1681.7" stroke="#000" stroke-width="3.8" />
<line x1="1403.0" y1="1674.7" x2="1403.0" y2="1681.7" stroke="#000" stroke-width="3.8" />
<text transform="translate(1036.59 1707.80)" font-size="26" font-weight="bold">0</text>
<text transform="translate(1118.41 1707.80)" font-size="26" font-weight="bold">15</text>
<text transform="translate(1209.17 1707.80)" font-size="26" font-weight="bold">30</text>
<text transform="translate(1298.60 1707.80)" font-size="26" font-weight="bold">45</text>
<text transform="translate(1388.63 1707.80)" font-size="26" font-weight="bold">60</text>
<text transform="translate(1159.04 1732.20) scale(0.9839 1)" font-size="26" font-weight="bold">Time (min)</text>
<text transform="translate(978.20 1700.02) rotate(-90) scale(0.9538 1)" font-size="26" font-weight="bold">% of Initial Blood Glucose</text>
<polyline points="1043.8,1482.5 1133.3,1542.2 1223.4,1590.5 1312.9,1584.6 1403.0,1579.5" fill="none" stroke="#f00" stroke-width="4.2" stroke-linejoin="miter" />
<line x1="1133.3" y1="1527.9" x2="1133.3" y2="1556.2" stroke="#f00" stroke-width="3.6" />
<line x1="1126.8" y1="1527.9" x2="1139.8" y2="1527.9" stroke="#f00" stroke-width="3.6" />
<line x1="1126.8" y1="1556.2" x2="1139.8" y2="1556.2" stroke="#f00" stroke-width="3.6" />
<line x1="1223.4" y1="1566.0" x2="1223.4" y2="1614.4" stroke="#f00" stroke-width="3.6" />
<line x1="1216.9" y1="1566.0" x2="1229.9" y2="1566.0" stroke="#f00" stroke-width="3.6" />
<line x1="1216.9" y1="1614.4" x2="1229.9" y2="1614.4" stroke="#f00" stroke-width="3.6" />
<line x1="1312.9" y1="1563.7" x2="1312.9" y2="1605.5" stroke="#f00" stroke-width="3.6" />
<line x1="1306.4" y1="1563.7" x2="1319.4" y2="1563.7" stroke="#f00" stroke-width="3.6" />
<line x1="1306.4" y1="1605.5" x2="1319.4" y2="1605.5" stroke="#f00" stroke-width="3.6" />
<line x1="1403.0" y1="1553.8" x2="1403.0" y2="1604.0" stroke="#f00" stroke-width="3.6" />
<line x1="1396.5" y1="1553.8" x2="1409.5" y2="1553.8" stroke="#f00" stroke-width="3.6" />
<line x1="1396.5" y1="1604.0" x2="1409.5" y2="1604.0" stroke="#f00" stroke-width="3.6" />
<circle cx="1043.8" cy="1482.5" r="6" fill="#f00"/>
<circle cx="1133.3" cy="1542.2" r="6" fill="#f00"/>
<circle cx="1223.4" cy="1590.5" r="6" fill="#f00"/>
<circle cx="1312.9" cy="1584.6" r="6" fill="#f00"/>
<circle cx="1403.0" cy="1579.5" r="6" fill="#f00"/>
<polyline points="1043.8,1482.5 1133.3,1589.0 1223.4,1624.8 1312.9,1624.0 1403.0,1622.8" fill="none" stroke="#000" stroke-width="4.2" stroke-linejoin="miter" />
<line x1="1133.3" y1="1584.0" x2="1133.3" y2="1594.0" stroke="#000" stroke-width="3.6" />
<line x1="1126.8" y1="1584.0" x2="1139.8" y2="1584.0" stroke="#000" stroke-width="3.6" />
<line x1="1126.8" y1="1594.0" x2="1139.8" y2="1594.0" stroke="#000" stroke-width="3.6" />
<line x1="1223.4" y1="1609.0" x2="1223.4" y2="1641.3" stroke="#000" stroke-width="3.6" />
<line x1="1216.9" y1="1609.0" x2="1229.9" y2="1609.0" stroke="#000" stroke-width="3.6" />
<line x1="1216.9" y1="1641.3" x2="1229.9" y2="1641.3" stroke="#000" stroke-width="3.6" />
<line x1="1312.9" y1="1608.6" x2="1312.9" y2="1639.0" stroke="#000" stroke-width="3.6" />
<line x1="1306.4" y1="1608.6" x2="1319.4" y2="1608.6" stroke="#000" stroke-width="3.6" />
<line x1="1306.4" y1="1639.0" x2="1319.4" y2="1639.0" stroke="#000" stroke-width="3.6" />
<line x1="1403.0" y1="1604.0" x2="1403.0" y2="1641.3" stroke="#000" stroke-width="3.6" />
<line x1="1396.5" y1="1604.0" x2="1409.5" y2="1604.0" stroke="#000" stroke-width="3.6" />
<line x1="1396.5" y1="1641.3" x2="1409.5" y2="1641.3" stroke="#000" stroke-width="3.6" />
<circle cx="1043.8" cy="1482.5" r="6" fill="#000"/>
<circle cx="1133.3" cy="1589.0" r="6" fill="#000"/>
<circle cx="1223.4" cy="1624.8" r="6" fill="#000"/>
<circle cx="1312.9" cy="1624.0" r="6" fill="#000"/>
<circle cx="1403.0" cy="1622.8" r="6" fill="#000"/>
<text transform="translate(1123.35 1527.32) scale(1.1888 1)" font-size="26" font-weight="bold">**</text>
<text transform="translate(1157.94 1975.50) scale(0.9550 1)" font-size="46" font-weight="bold">ITT</text>
<line x1="1045.6" y1="2023.2" x2="1071.8" y2="2023.2" stroke="#000" stroke-width="4.2" />
<circle cx="1058.7" cy="2023.2" r="5.5" fill="#000"/>
<text transform="translate(1084.08 2032.70) scale(1.0204 1)" font-size="26" font-weight="bold">Female-</text>
<text transform="translate(1184.34 2032.70) scale(1.0204 1)" font-size="26" font-weight="bold" font-style="italic">ER</text>
<text transform="translate(1221.20 2032.70) scale(1.0204 1)" font-size="29.120000000000005" font-style="italic" font-family="'Liberation Serif', 'Times New Roman', serif">α</text>
<text transform="translate(1236.80 2020.70) scale(1.0204 1)" font-size="19" font-weight="bold">F/F</text>
<line x1="1271.3" y1="2023.2" x2="1296.8" y2="2023.2" stroke="#f00" stroke-width="4.2" />
<rect x="1278.8" y="2018.0" width="10.5" height="10.5" fill="#f00"/>
<text transform="translate(1310.27 2032.70) scale(1.0242 1)" font-size="26" font-weight="bold">Female-</text>
<text transform="translate(1410.91 2032.70) scale(1.0242 1)" font-size="26" font-weight="bold" font-style="italic">ER</text>
<text transform="translate(1447.91 2032.70) scale(1.0242 1)" font-size="29.120000000000005" font-style="italic" font-family="'Liberation Serif', 'Times New Roman', serif">α</text>
<text transform="translate(1463.56 2020.70) scale(1.0242 1)" font-size="19" font-weight="bold">LivKO</text>
<line x1="1043.8" y1="2092.3" x2="1043.8" y2="2336.9" stroke="#000" stroke-width="3.8" />
<line x1="1037.0" y1="2335.0" x2="1043.8" y2="2335.0" stroke="#000" stroke-width="3.8" />
<text transform="translate(1017.61 2344.23)" font-size="26" font-weight="bold">0</text>
<line x1="1037.0" y1="2254.7" x2="1043.8" y2="2254.7" stroke="#000" stroke-width="3.8" />
<text transform="translate(1003.18 2263.97)" font-size="26" font-weight="bold">50</text>
<line x1="1037.0" y1="2174.5" x2="1043.8" y2="2174.5" stroke="#000" stroke-width="3.8" />
<text transform="translate(988.75 2183.70)" font-size="26" font-weight="bold">100</text>
<line x1="1037.0" y1="2094.2" x2="1043.8" y2="2094.2" stroke="#000" stroke-width="3.8" />
<text transform="translate(988.75 2103.43)" font-size="26" font-weight="bold">150</text>
<line x1="1037.0" y1="2335.0" x2="1404.9" y2="2335.0" stroke="#000" stroke-width="3.8" />
<line x1="1043.8" y1="2335.0" x2="1043.8" y2="2342.0" stroke="#000" stroke-width="3.8" />
<line x1="1133.9" y1="2335.0" x2="1133.9" y2="2342.0" stroke="#000" stroke-width="3.8" />
<line x1="1223.4" y1="2335.0" x2="1223.4" y2="2342.0" stroke="#000" stroke-width="3.8" />
<line x1="1313.8" y1="2335.0" x2="1313.8" y2="2342.0" stroke="#000" stroke-width="3.8" />
<line x1="1403.0" y1="2335.0" x2="1403.0" y2="2342.0" stroke="#000" stroke-width="3.8" />
<text transform="translate(1036.59 2367.80)" font-size="26" font-weight="bold">0</text>
<text transform="translate(1119.02 2367.80)" font-size="26" font-weight="bold">15</text>
<text transform="translate(1209.17 2367.80)" font-size="26" font-weight="bold">30</text>
<text transform="translate(1299.50 2367.80)" font-size="26" font-weight="bold">45</text>
<text transform="translate(1388.63 2367.80)" font-size="26" font-weight="bold">60</text>
<text transform="translate(1159.04 2393.70) scale(0.9839 1)" font-size="26" font-weight="bold">Time (min)</text>
<text transform="translate(989.20 2360.92) rotate(-90) scale(0.9535 1)" font-size="26" font-weight="bold">% of Initial Blood Glucose</text>
<polyline points="1043.8,2174.7 1133.9,2202.8 1223.4,2225.2 1313.8,2235.0 1403.0,2240.1" fill="none" stroke="#f00" stroke-width="4.2" stroke-linejoin="miter" />
<line x1="1133.9" y1="2191.7" x2="1133.9" y2="2214.1" stroke="#f00" stroke-width="3.6" />
<line x1="1127.4" y1="2191.7" x2="1140.4" y2="2191.7" stroke="#f00" stroke-width="3.6" />
<line x1="1127.4" y1="2214.1" x2="1140.4" y2="2214.1" stroke="#f00" stroke-width="3.6" />
<line x1="1223.4" y1="2212.6" x2="1223.4" y2="2237.1" stroke="#f00" stroke-width="3.6" />
<line x1="1216.9" y1="2212.6" x2="1229.9" y2="2212.6" stroke="#f00" stroke-width="3.6" />
<line x1="1216.9" y1="2237.1" x2="1229.9" y2="2237.1" stroke="#f00" stroke-width="3.6" />
<line x1="1313.8" y1="2219.2" x2="1313.8" y2="2250.8" stroke="#f00" stroke-width="3.6" />
<line x1="1307.3" y1="2219.2" x2="1320.3" y2="2219.2" stroke="#f00" stroke-width="3.6" />
<line x1="1307.3" y1="2250.8" x2="1320.3" y2="2250.8" stroke="#f00" stroke-width="3.6" />
<line x1="1403.0" y1="2222.5" x2="1403.0" y2="2258.3" stroke="#f00" stroke-width="3.6" />
<line x1="1396.5" y1="2222.5" x2="1409.5" y2="2222.5" stroke="#f00" stroke-width="3.6" />
<line x1="1396.5" y1="2258.3" x2="1409.5" y2="2258.3" stroke="#f00" stroke-width="3.6" />
<rect x="1037.8" y="2168.7" width="12" height="12" fill="#f00"/>
<rect x="1127.9" y="2196.8" width="12" height="12" fill="#f00"/>
<rect x="1217.4" y="2219.2" width="12" height="12" fill="#f00"/>
<rect x="1307.8" y="2229.0" width="12" height="12" fill="#f00"/>
<rect x="1397.0" y="2234.1" width="12" height="12" fill="#f00"/>
<polyline points="1043.8,2174.7 1133.9,2227.5 1223.4,2252.9 1313.8,2273.2 1403.0,2278.9" fill="none" stroke="#000" stroke-width="4.2" stroke-linejoin="miter" />
<line x1="1133.9" y1="2220.0" x2="1133.9" y2="2233.5" stroke="#000" stroke-width="3.6" />
<line x1="1127.4" y1="2220.0" x2="1140.4" y2="2220.0" stroke="#000" stroke-width="3.6" />
<line x1="1127.4" y1="2233.5" x2="1140.4" y2="2233.5" stroke="#000" stroke-width="3.6" />
<line x1="1313.8" y1="2268.7" x2="1313.8" y2="2277.7" stroke="#000" stroke-width="3.6" />
<line x1="1307.3" y1="2268.7" x2="1320.3" y2="2268.7" stroke="#000" stroke-width="3.6" />
<line x1="1307.3" y1="2277.7" x2="1320.3" y2="2277.7" stroke="#000" stroke-width="3.6" />
<line x1="1403.0" y1="2271.5" x2="1403.0" y2="2286.4" stroke="#000" stroke-width="3.6" />
<line x1="1396.5" y1="2271.5" x2="1409.5" y2="2271.5" stroke="#000" stroke-width="3.6" />
<line x1="1396.5" y1="2286.4" x2="1409.5" y2="2286.4" stroke="#000" stroke-width="3.6" />
<circle cx="1043.8" cy="2174.7" r="6" fill="#000"/>
<circle cx="1133.9" cy="2227.5" r="6" fill="#000"/>
<circle cx="1223.4" cy="2252.9" r="6" fill="#000"/>
<circle cx="1313.8" cy="2273.2" r="6" fill="#000"/>
<circle cx="1403.0" cy="2278.9" r="6" fill="#000"/>
<text transform="translate(1219.89 2216.32) scale(0.8097 1)" font-size="26" font-weight="bold">*</text>
<text transform="translate(1311.19 2223.92) scale(0.8097 1)" font-size="26" font-weight="bold">*</text>
<text transform="translate(1616.88 1316.70) scale(0.9780 1)" font-size="46" font-weight="bold">Male Liver</text>
<text transform="translate(1573.21 1357.60) scale(1.0185 1)" font-size="29" font-weight="bold" font-style="italic">ERα</text>
<text transform="translate(1632.56 1344.60) scale(1.0185 1)" font-size="20" font-weight="bold">F/F</text>
<line x1="1554.0" y1="1361.0" x2="1652.9" y2="1361.0" stroke="#000" stroke-width="3.4" />
<text transform="translate(1744.32 1356.60)" font-size="29" font-weight="bold" font-style="italic">ERα</text>
<text transform="translate(1802.70 1343.60)" font-size="20" font-weight="bold">LivKO</text>
<line x1="1677.7" y1="1361.0" x2="1889.7" y2="1361.0" stroke="#000" stroke-width="3.4" />
<text transform="translate(1431.99 1407.00) scale(1.0460 1)" font-size="29.5" font-weight="bold">Insulin</text>
<text transform="translate(1567.07 1408.86)" font-size="36" font-weight="bold">-</text>
<text transform="translate(1604.17 1411.38)" font-size="36" font-weight="bold">+</text>
<text transform="translate(1643.37 1411.38)" font-size="36" font-weight="bold">+</text>
<text transform="translate(1702.37 1408.86)" font-size="36" font-weight="bold">-</text>
<text transform="translate(1741.57 1408.86)" font-size="36" font-weight="bold">-</text>
<text transform="translate(1774.57 1411.38)" font-size="36" font-weight="bold">+</text>
<text transform="translate(1813.77 1411.38)" font-size="36" font-weight="bold">+</text>
<text transform="translate(1853.67 1411.38)" font-size="36" font-weight="bold">+</text>
<text transform="translate(1891.07 1411.38)" font-size="36" font-weight="bold">+</text>
<text transform="translate(1405.80 1450.60) scale(1.0068 1)" font-size="26" font-weight="bold">pAKT-S473</text>
<text transform="translate(1405.81 1504.10)" font-size="26" font-weight="bold">pAKT-T308</text>
<text transform="translate(1479.37 1561.40) scale(0.9749 1)" font-size="26" font-weight="bold">AKT</text>
<text transform="translate(1486.32 1629.50)" font-size="26" font-weight="bold">ERα</text>
<text transform="translate(1445.97 1694.30) scale(0.9876 1)" font-size="26" font-weight="bold">GAPDH</text>
<g clip-path="url(#c5)"><rect x="1546.5" y="1413.5" width="390.2" height="51.9" fill="#e0e0e0"/><ellipse cx="1614.5" cy="1444.3" rx="24.0" ry="7.6" fill="#000000" style="mix-blend-mode:darken" filter="url(#f1_6)"/><ellipse cx="1656.5" cy="1444.3" rx="23.0" ry="7.4" fill="#000000" style="mix-blend-mode:darken" filter="url(#f1_6)"/><ellipse cx="1636.0" cy="1446.5" rx="8.0" ry="5.5" fill="#000000" style="mix-blend-mode:darken" filter="url(#f1_6)"/><ellipse cx="1784.5" cy="1445.5" rx="17.0" ry="2.2" fill="#9d9d9d" style="mix-blend-mode:darken" filter="url(#f1_6)"/><ellipse cx="1825.0" cy="1444.5" rx="19.0" ry="4.0" fill="#383838" style="mix-blend-mode:darken" filter="url(#f1_6)"/><ellipse cx="1810.0" cy="1447.5" rx="7.0" ry="2.5" fill="#5a5a5a" style="mix-blend-mode:darken" filter="url(#f1_2)"/><ellipse cx="1863.0" cy="1445.5" rx="15.0" ry="2.2" fill="#a8a8a8" style="mix-blend-mode:darken" filter="url(#f1_6)"/><ellipse cx="1907.5" cy="1444.5" rx="16.0" ry="4.2" fill="#222222" style="mix-blend-mode:darken" filter="url(#f1_6)"/><ellipse cx="1560.0" cy="1420.0" rx="25.0" ry="12.0" fill="#fff" fill-opacity="0.35" filter="url(#f9)"/></g>
<rect x="1546.5" y="1413.5" width="390.2" height="51.9" fill="none" stroke="#000" stroke-width="3.6" />
<g clip-path="url(#c6)"><rect x="1546.5" y="1476.8" width="390.2" height="45.9" fill="#d4d4d4"/><ellipse cx="1575.0" cy="1492.0" rx="14.0" ry="18.0" fill="#c5c5c5" style="mix-blend-mode:darken" filter="url(#f6)"/><ellipse cx="1615.0" cy="1492.0" rx="14.0" ry="18.0" fill="#c5c5c5" style="mix-blend-mode:darken" filter="url(#f6)"/><ellipse cx="1656.0" cy="1492.0" rx="14.0" ry="18.0" fill="#c5c5c5" style="mix-blend-mode:darken" filter="url(#f6)"/><ellipse cx="1700.0" cy="1492.0" rx="14.0" ry="18.0" fill="#c5c5c5" style="mix-blend-mode:darken" filter="url(#f6)"/><ellipse cx="1742.0" cy="1492.0" rx="14.0" ry="18.0" fill="#c5c5c5" style="mix-blend-mode:darken" filter="url(#f6)"/><ellipse cx="1784.0" cy="1492.0" rx="14.0" ry="18.0" fill="#c5c5c5" style="mix-blend-mode:darken" filter="url(#f6)"/><ellipse cx="1825.0" cy="1492.0" rx="14.0" ry="18.0" fill="#c5c5c5" style="mix-blend-mode:darken" filter="url(#f6)"/><ellipse cx="1866.0" cy="1492.0" rx="14.0" ry="18.0" fill="#c5c5c5" style="mix-blend-mode:darken" filter="url(#f6)"/><ellipse cx="1906.0" cy="1492.0" rx="14.0" ry="18.0" fill="#c5c5c5" style="mix-blend-mode:darken" filter="url(#f6)"/><ellipse cx="1575.0" cy="1499.0" rx="14.0" ry="5.0" fill="#bfbfbf" style="mix-blend-mode:darken" filter="url(#f2_5)"/><ellipse cx="1612.3" cy="1499.0" rx="15.5" ry="7.0" fill="#000000" style="mix-blend-mode:darken" filter="url(#f2)"/><ellipse cx="1654.0" cy="1500.0" rx="16.0" ry="6.0" fill="#000000" style="mix-blend-mode:darken" filter="url(#f2)"/><ellipse cx="1700.0" cy="1495.0" rx="14.0" ry="5.0" fill="#c7c7c7" style="mix-blend-mode:darken" filter="url(#f2_5)"/><ellipse cx="1743.0" cy="1492.0" rx="13.0" ry="5.0" fill="#9f9f9f" style="mix-blend-mode:darken" filter="url(#f2_5)"/><ellipse cx="1783.0" cy="1499.5" rx="16.0" ry="5.0" fill="#2a2a2a" style="mix-blend-mode:darken" filter="url(#f2)"/><ellipse cx="1825.2" cy="1499.0" rx="16.0" ry="6.0" fill="#0b0b0b" style="mix-blend-mode:darken" filter="url(#f2)"/><ellipse cx="1867.0" cy="1499.5" rx="16.0" ry="5.0" fill="#3b3b3b" style="mix-blend-mode:darken" filter="url(#f2)"/><ellipse cx="1909.0" cy="1500.0" rx="14.0" ry="4.0" fill="#8a8a8a" style="mix-blend-mode:darken" filter="url(#f2_5)"/><ellipse cx="1740.0" cy="1516.0" rx="190.0" ry="4.0" fill="#b4b4b4" style="mix-blend-mode:darken" filter="url(#f3)"/></g>
<rect x="1546.5" y="1476.8" width="390.2" height="45.9" fill="none" stroke="#000" stroke-width="3.6" />
<g clip-path="url(#c7)"><rect x="1546.5" y="1534.6" width="390.2" height="43.9" fill="#e6e6e6"/><ellipse cx="1573.0" cy="1556.0" rx="22.0" ry="8.5" fill="#000000" style="mix-blend-mode:darken" filter="url(#f1_6)"/><ellipse cx="1612.0" cy="1555.0" rx="24.0" ry="8.0" fill="#000000" style="mix-blend-mode:darken" filter="url(#f1_6)"/><ellipse cx="1654.0" cy="1554.0" rx="24.0" ry="8.5" fill="#000000" style="mix-blend-mode:darken" filter="url(#f1_6)"/><ellipse cx="1697.0" cy="1555.5" rx="24.0" ry="8.0" fill="#000000" style="mix-blend-mode:darken" filter="url(#f1_6)"/><ellipse cx="1740.0" cy="1556.0" rx="24.0" ry="8.0" fill="#000000" style="mix-blend-mode:darken" filter="url(#f1_6)"/><ellipse cx="1782.0" cy="1555.0" rx="24.0" ry="8.5" fill="#000000" style="mix-blend-mode:darken" filter="url(#f1_6)"/><ellipse cx="1822.0" cy="1555.0" rx="24.0" ry="8.5" fill="#000000" style="mix-blend-mode:darken" filter="url(#f1_6)"/><ellipse cx="1864.0" cy="1554.0" rx="24.0" ry="8.5" fill="#000000" style="mix-blend-mode:darken" filter="url(#f1_6)"/><ellipse cx="1906.0" cy="1554.5" rx="26.0" ry="9.0" fill="#000000" style="mix-blend-mode:darken" filter="url(#f1_6)"/><ellipse cx="1549.0" cy="1555.0" rx="2.0" ry="1.0" fill="#000000" style="mix-blend-mode:darken" filter="url(#f0_8)"/></g>
<rect x="1546.5" y="1534.6" width="390.2" height="43.9" fill="none" stroke="#000" stroke-width="3.6" />
<g clip-path="url(#c8)"><rect x="1546.5" y="1592.0" width="390.2" height="51.6" fill="#b8b8b8"/><rect x="1546" y="1591" width="392" height="54" fill="#c4c4c4" filter="url(#noise1)"/><ellipse cx="1575.0" cy="1621.5" rx="21.0" ry="3.6" fill="#090909" style="mix-blend-mode:darken" filter="url(#f1_6)"/><ellipse cx="1618.0" cy="1620.5" rx="18.0" ry="5.0" fill="#000000" style="mix-blend-mode:darken" filter="url(#f1_6)"/><ellipse cx="1658.0" cy="1621.5" rx="17.0" ry="3.6" fill="#0f0f0f" style="mix-blend-mode:darken" filter="url(#f1_6)"/><ellipse cx="1618.0" cy="1616.5" rx="11.0" ry="4.0" fill="#000000" style="mix-blend-mode:darken" filter="url(#f1_6)"/><ellipse cx="1618.0" cy="1602.0" rx="22.0" ry="8.0" fill="#000" fill-opacity="0.1" filter="url(#f6)"/><ellipse cx="1580.0" cy="1602.0" rx="20.0" ry="7.0" fill="#000" fill-opacity="0.08" filter="url(#f6)"/><ellipse cx="1700.0" cy="1636.0" rx="15.0" ry="4.0" fill="#000" fill-opacity="0.1" filter="url(#f4)"/><ellipse cx="1710.0" cy="1622.5" rx="12.0" ry="2.0" fill="#727272" style="mix-blend-mode:darken" filter="url(#f1_6)"/><ellipse cx="1748.0" cy="1621.5" rx="14.0" ry="2.2" fill="#6b6b6b" style="mix-blend-mode:darken" filter="url(#f1_6)"/><ellipse cx="1785.0" cy="1622.0" rx="14.0" ry="2.0" fill="#727272" style="mix-blend-mode:darken" filter="url(#f1_6)"/><ellipse cx="1826.0" cy="1621.5" rx="14.0" ry="2.2" fill="#6b6b6b" style="mix-blend-mode:darken" filter="url(#f1_6)"/><ellipse cx="1866.0" cy="1622.0" rx="14.0" ry="2.0" fill="#767676" style="mix-blend-mode:darken" filter="url(#f1_6)"/><ellipse cx="1905.0" cy="1622.0" rx="14.0" ry="2.0" fill="#797979" style="mix-blend-mode:darken" filter="url(#f1_6)"/></g>
<rect x="1546.5" y="1592.0" width="390.2" height="51.6" fill="none" stroke="#000" stroke-width="3.6" />
<g clip-path="url(#c9)"><rect x="1546.5" y="1650.6" width="390.2" height="56.3" fill="#e8e8e8"/><ellipse cx="1585.0" cy="1683.5" rx="38.0" ry="6.8" fill="#000000" style="mix-blend-mode:darken" filter="url(#f1_6)"/><ellipse cx="1650.0" cy="1683.0" rx="40.0" ry="6.5" fill="#000000" style="mix-blend-mode:darken" filter="url(#f1_6)"/><ellipse cx="1720.0" cy="1682.0" rx="40.0" ry="6.5" fill="#000000" style="mix-blend-mode:darken" filter="url(#f1_6)"/><ellipse cx="1790.0" cy="1682.0" rx="40.0" ry="6.5" fill="#000000" style="mix-blend-mode:darken" filter="url(#f1_6)"/><ellipse cx="1860.0" cy="1684.0" rx="40.0" ry="7.0" fill="#000000" style="mix-blend-mode:darken" filter="url(#f1_6)"/><ellipse cx="1910.0" cy="1683.0" rx="24.0" ry="7.5" fill="#000000" style="mix-blend-mode:darken" filter="url(#f1_6)"/></g>
<rect x="1546.5" y="1650.6" width="390.2" height="56.3" fill="none" stroke="#000" stroke-width="3.6" />
<line x1="1938.5" y1="1458.6" x2="1954.5" y2="1458.6" stroke="#000" stroke-width="4" />
<text transform="translate(1959.91 1467.20) scale(1.0500 1)" font-size="25" font-weight="bold">50</text>
<line x1="1938.5" y1="1517.2" x2="1954.5" y2="1517.2" stroke="#000" stroke-width="4" />
<text transform="translate(1959.91 1525.00) scale(1.0500 1)" font-size="25" font-weight="bold">50</text>
<line x1="1938.5" y1="1573.2" x2="1954.5" y2="1573.2" stroke="#000" stroke-width="4" />
<text transform="translate(1959.91 1581.00) scale(1.0500 1)" font-size="25" font-weight="bold">50</text>
<line x1="1938.5" y1="1594.8" x2="1954.5" y2="1594.8" stroke="#000" stroke-width="4" />
<text transform="translate(1959.66 1602.70) scale(1.0450 1)" font-size="25" font-weight="bold">75</text>
<line x1="1938.5" y1="1684.7" x2="1954.5" y2="1684.7" stroke="#000" stroke-width="4" />
<text transform="translate(1960.05 1693.00) scale(1.0450 1)" font-size="25" font-weight="bold">37</text>
<text transform="translate(1613.99 1975.50) scale(0.9729 1)" font-size="46" font-weight="bold">Female Liver</text>
<text transform="translate(1613.02 2018.30)" font-size="29" font-weight="bold" font-style="italic">ERα</text>
<text transform="translate(1671.30 2005.30)" font-size="20" font-weight="bold">F/F</text>
<line x1="1562.3" y1="2023.9" x2="1731.2" y2="2023.9" stroke="#000" stroke-width="3.4" />
<text transform="translate(1781.63 2018.30) scale(0.9906 1)" font-size="29" font-weight="bold" font-style="italic">ERα</text>
<text transform="translate(1839.35 2005.30) scale(0.9906 1)" font-size="20" font-weight="bold">LivKO</text>
<line x1="1749.3" y1="2023.9" x2="1918.9" y2="2023.9" stroke="#000" stroke-width="3.4" />
<text transform="translate(1451.92 2064.40) scale(1.0350 1)" font-size="29.5" font-weight="bold">Insulin</text>
<text transform="translate(1566.31 2062.56)" font-size="31" font-weight="bold">-</text>
<text transform="translate(1604.21 2062.56)" font-size="31" font-weight="bold">-</text>
<text transform="translate(1628.23 2064.73)" font-size="31" font-weight="bold">+</text>
<text transform="translate(1662.83 2064.73)" font-size="31" font-weight="bold">+</text>
<text transform="translate(1694.13 2064.73)" font-size="31" font-weight="bold">+</text>
<text transform="translate(1722.13 2064.73)" font-size="31" font-weight="bold">+</text>
<text transform="translate(1759.91 2062.56)" font-size="31" font-weight="bold">-</text>
<text transform="translate(1791.21 2062.56)" font-size="31" font-weight="bold">-</text>
<text transform="translate(1822.51 2062.56)" font-size="31" font-weight="bold">-</text>
<text transform="translate(1853.83 2064.73)" font-size="31" font-weight="bold">+</text>
<text transform="translate(1884.53 2064.73)" font-size="31" font-weight="bold">+</text>
<text transform="translate(1915.73 2064.73)" font-size="31" font-weight="bold">+</text>
<text transform="translate(1409.30 2101.30) scale(1.0083 1)" font-size="26" font-weight="bold">pAKT-S473</text>
<text transform="translate(1409.30 2162.50) scale(1.0064 1)" font-size="26" font-weight="bold">pAKT-T308</text>
<text transform="translate(1492.46 2218.50) scale(0.9787 1)" font-size="26" font-weight="bold">AKT</text>
<text transform="translate(1491.40 2288.40) scale(1.0044 1)" font-size="26" font-weight="bold">ERα</text>
<text transform="translate(1453.56 2349.30)" font-size="26" font-weight="bold">GAPDH</text>
<g clip-path="url(#c10)"><rect x="1552.7" y="2068.3" width="386.6" height="48.5" fill="#e4e4e4"/><ellipse cx="1636.8" cy="2093.3" rx="16.0" ry="3.4" fill="#0b0b0b" style="mix-blend-mode:darken" filter="url(#f1_2)"/><ellipse cx="1666.4" cy="2093.3" rx="16.0" ry="3.0" fill="#222222" style="mix-blend-mode:darken" filter="url(#f1_2)"/><ellipse cx="1698.2" cy="2093.5" rx="16.0" ry="3.0" fill="#292929" style="mix-blend-mode:darken" filter="url(#f1_2)"/><ellipse cx="1728.6" cy="2093.3" rx="16.5" ry="3.6" fill="#0b0b0b" style="mix-blend-mode:darken" filter="url(#f1_2)"/><ellipse cx="1855.2" cy="2092.6" rx="14.5" ry="2.8" fill="#393939" style="mix-blend-mode:darken" filter="url(#f1_2)"/><ellipse cx="1884.5" cy="2092.6" rx="15.5" ry="2.8" fill="#393939" style="mix-blend-mode:darken" filter="url(#f1_2)"/><ellipse cx="1916.0" cy="2092.6" rx="15.5" ry="2.8" fill="#393939" style="mix-blend-mode:darken" filter="url(#f1_2)"/></g>
<rect x="1552.7" y="2068.3" width="386.6" height="48.5" fill="none" stroke="#000" stroke-width="3.6" />
<g clip-path="url(#c11)"><rect x="1551.7" y="2126.4" width="387.6" height="49.0" fill="#e6e6e6"/><ellipse cx="1680.0" cy="2140.0" rx="60.0" ry="14.0" fill="#d4d4d4" style="mix-blend-mode:darken" filter="url(#f6)"/><ellipse cx="1880.0" cy="2170.0" rx="55.0" ry="8.0" fill="#cfcfcf" style="mix-blend-mode:darken" filter="url(#f5)"/><ellipse cx="1636.3" cy="2159.0" rx="15.5" ry="3.4" fill="#000000" style="mix-blend-mode:darken" filter="url(#f1_2)"/><ellipse cx="1667.0" cy="2159.0" rx="16.0" ry="3.2" fill="#000000" style="mix-blend-mode:darken" filter="url(#f1_2)"/><ellipse cx="1698.9" cy="2159.0" rx="16.5" ry="3.2" fill="#000000" style="mix-blend-mode:darken" filter="url(#f1_2)"/><ellipse cx="1731.7" cy="2159.0" rx="16.0" ry="3.5" fill="#000000" style="mix-blend-mode:darken" filter="url(#f1_2)"/><ellipse cx="1858.4" cy="2159.0" rx="11.0" ry="2.2" fill="#5c5c5c" style="mix-blend-mode:darken" filter="url(#f1_2)"/><ellipse cx="1890.3" cy="2159.0" rx="12.0" ry="2.4" fill="#505050" style="mix-blend-mode:darken" filter="url(#f1_2)"/><ellipse cx="1921.0" cy="2159.0" rx="11.0" ry="2.0" fill="#969696" style="mix-blend-mode:darken" filter="url(#f1_2)"/></g>
<rect x="1551.7" y="2126.4" width="387.6" height="49.0" fill="none" stroke="#000" stroke-width="3.6" />
<g clip-path="url(#c12)"><rect x="1551.7" y="2186.3" width="387.6" height="51.1" fill="#ebebeb"/><ellipse cx="1573.9" cy="2211.5" rx="19.0" ry="4.8" fill="#424242" style="mix-blend-mode:darken" filter="url(#f1_6)"/><ellipse cx="1607.7" cy="2211.5" rx="19.0" ry="4.8" fill="#424242" style="mix-blend-mode:darken" filter="url(#f1_6)"/><ellipse cx="1637.7" cy="2211.5" rx="19.0" ry="4.8" fill="#3b3b3b" style="mix-blend-mode:darken" filter="url(#f1_6)"/><ellipse cx="1668.3" cy="2211.5" rx="19.0" ry="4.8" fill="#343434" style="mix-blend-mode:darken" filter="url(#f1_6)"/><ellipse cx="1698.2" cy="2211.5" rx="19.0" ry="4.8" fill="#2a2a2a" style="mix-blend-mode:darken" filter="url(#f1_6)"/><ellipse cx="1728.9" cy="2211.5" rx="19.0" ry="4.8" fill="#232323" style="mix-blend-mode:darken" filter="url(#f1_6)"/><ellipse cx="1760.8" cy="2211.5" rx="19.0" ry="4.8" fill="#1c1c1c" style="mix-blend-mode:darken" filter="url(#f1_6)"/><ellipse cx="1790.0" cy="2211.5" rx="19.0" ry="4.8" fill="#1c1c1c" style="mix-blend-mode:darken" filter="url(#f1_6)"/><ellipse cx="1822.0" cy="2213.0" rx="19.0" ry="4.8" fill="#171717" style="mix-blend-mode:darken" filter="url(#f1_6)"/><ellipse cx="1851.9" cy="2213.0" rx="19.0" ry="5.6" fill="#0c0c0c" style="mix-blend-mode:darken" filter="url(#f1_6)"/><ellipse cx="1883.2" cy="2213.0" rx="19.0" ry="5.6" fill="#050505" style="mix-blend-mode:darken" filter="url(#f1_6)"/><ellipse cx="1915.7" cy="2213.0" rx="19.0" ry="5.6" fill="#000000" style="mix-blend-mode:darken" filter="url(#f1_6)"/></g>
<rect x="1551.7" y="2186.3" width="387.6" height="51.1" fill="none" stroke="#000" stroke-width="3.6" />
<g clip-path="url(#c13)"><rect x="1551.7" y="2246.2" width="387.6" height="54.3" fill="#f0f0f0"/><ellipse cx="1573.9" cy="2286.6" rx="11.0" ry="2.2" fill="#bbbbbb" style="mix-blend-mode:darken" filter="url(#f1_6)"/><ellipse cx="1607.7" cy="2286.6" rx="11.0" ry="2.2" fill="#909090" style="mix-blend-mode:darken" filter="url(#f1_6)"/><ellipse cx="1637.7" cy="2286.6" rx="11.0" ry="2.2" fill="#a8a8a8" style="mix-blend-mode:darken" filter="url(#f1_6)"/><ellipse cx="1668.3" cy="2286.6" rx="11.0" ry="2.2" fill="#b4b4b4" style="mix-blend-mode:darken" filter="url(#f1_6)"/><ellipse cx="1698.2" cy="2286.6" rx="11.0" ry="2.2" fill="#b4b4b4" style="mix-blend-mode:darken" filter="url(#f1_6)"/><ellipse cx="1728.9" cy="2286.6" rx="11.0" ry="2.2" fill="#a8a8a8" style="mix-blend-mode:darken" filter="url(#f1_6)"/><ellipse cx="1760.8" cy="2286.6" rx="11.0" ry="2.2" fill="#d8d8d8" style="mix-blend-mode:darken" filter="url(#f1_6)"/><ellipse cx="1790.0" cy="2286.6" rx="11.0" ry="2.2" fill="#cccccc" style="mix-blend-mode:darken" filter="url(#f1_6)"/><ellipse cx="1573.9" cy="2295.7" rx="12.0" ry="3.5" fill="#d8d8d8" style="mix-blend-mode:darken" filter="url(#f2_5)"/><ellipse cx="1607.7" cy="2295.7" rx="12.0" ry="3.5" fill="#d8d8d8" style="mix-blend-mode:darken" filter="url(#f2_5)"/><ellipse cx="1637.7" cy="2295.7" rx="12.0" ry="3.5" fill="#d8d8d8" style="mix-blend-mode:darken" filter="url(#f2_5)"/><ellipse cx="1668.3" cy="2295.7" rx="12.0" ry="3.5" fill="#d8d8d8" style="mix-blend-mode:darken" filter="url(#f2_5)"/><ellipse cx="1698.2" cy="2295.7" rx="12.0" ry="3.5" fill="#d8d8d8" style="mix-blend-mode:darken" filter="url(#f2_5)"/><ellipse cx="1728.9" cy="2295.7" rx="12.0" ry="3.5" fill="#d8d8d8" style="mix-blend-mode:darken" filter="url(#f2_5)"/><ellipse cx="1760.8" cy="2295.7" rx="12.0" ry="3.5" fill="#d8d8d8" style="mix-blend-mode:darken" filter="url(#f2_5)"/><ellipse cx="1790.0" cy="2295.7" rx="12.0" ry="3.5" fill="#d8d8d8" style="mix-blend-mode:darken" filter="url(#f2_5)"/></g>
<rect x="1551.7" y="2246.2" width="387.6" height="54.3" fill="none" stroke="#000" stroke-width="3.6" />
<g clip-path="url(#c14)"><rect x="1551.7" y="2310.6" width="387.6" height="57.6" fill="#f0f0f0"/><ellipse cx="1573.9" cy="2343.0" rx="19.5" ry="3.2" fill="#0c0c0c" style="mix-blend-mode:darken" filter="url(#f1_2)"/><ellipse cx="1607.7" cy="2343.0" rx="19.5" ry="3.2" fill="#0c0c0c" style="mix-blend-mode:darken" filter="url(#f1_2)"/><ellipse cx="1637.7" cy="2341.5" rx="19.5" ry="3.2" fill="#0c0c0c" style="mix-blend-mode:darken" filter="url(#f1_2)"/><ellipse cx="1668.3" cy="2341.5" rx="19.5" ry="3.2" fill="#0c0c0c" style="mix-blend-mode:darken" filter="url(#f1_2)"/><ellipse cx="1698.2" cy="2341.5" rx="19.5" ry="3.2" fill="#0c0c0c" style="mix-blend-mode:darken" filter="url(#f1_2)"/><ellipse cx="1728.9" cy="2341.5" rx="19.5" ry="3.2" fill="#0c0c0c" style="mix-blend-mode:darken" filter="url(#f1_2)"/><ellipse cx="1760.8" cy="2341.5" rx="19.5" ry="3.2" fill="#0c0c0c" style="mix-blend-mode:darken" filter="url(#f1_2)"/><ellipse cx="1790.0" cy="2341.5" rx="19.5" ry="3.2" fill="#0c0c0c" style="mix-blend-mode:darken" filter="url(#f1_2)"/><ellipse cx="1822.0" cy="2341.5" rx="19.5" ry="3.2" fill="#0c0c0c" style="mix-blend-mode:darken" filter="url(#f1_2)"/><ellipse cx="1851.9" cy="2341.5" rx="19.5" ry="3.2" fill="#0c0c0c" style="mix-blend-mode:darken" filter="url(#f1_2)"/><ellipse cx="1883.2" cy="2341.5" rx="19.5" ry="3.2" fill="#0c0c0c" style="mix-blend-mode:darken" filter="url(#f1_2)"/><ellipse cx="1915.7" cy="2341.5" rx="19.5" ry="3.2" fill="#0c0c0c" style="mix-blend-mode:darken" filter="url(#f1_2)"/></g>
<rect x="1551.7" y="2310.6" width="387.6" height="57.6" fill="none" stroke="#000" stroke-width="3.6" />
<line x1="1941.1" y1="2113.4" x2="1960.7" y2="2113.4" stroke="#000" stroke-width="4" />
<text transform="translate(1966.41 2121.20) scale(1.0500 1)" font-size="25" font-weight="bold">50</text>
<line x1="1941.1" y1="2172.5" x2="1960.7" y2="2172.5" stroke="#000" stroke-width="4" />
<text transform="translate(1966.41 2179.80) scale(1.0500 1)" font-size="25" font-weight="bold">50</text>
<line x1="1941.1" y1="2231.9" x2="1960.7" y2="2231.9" stroke="#000" stroke-width="4" />
<text transform="translate(1966.41 2239.70) scale(1.0500 1)" font-size="25" font-weight="bold">50</text>
<line x1="1941.1" y1="2254.0" x2="1960.7" y2="2254.0" stroke="#000" stroke-width="4" />
<text transform="translate(1966.16 2261.90) scale(1.0450 1)" font-size="25" font-weight="bold">75</text>
<line x1="1941.1" y1="2341.3" x2="1960.7" y2="2341.3" stroke="#000" stroke-width="4" />
<text transform="translate(1966.55 2349.10) scale(1.0450 1)" font-size="25" font-weight="bold">37</text>
</svg>
</body></html>
